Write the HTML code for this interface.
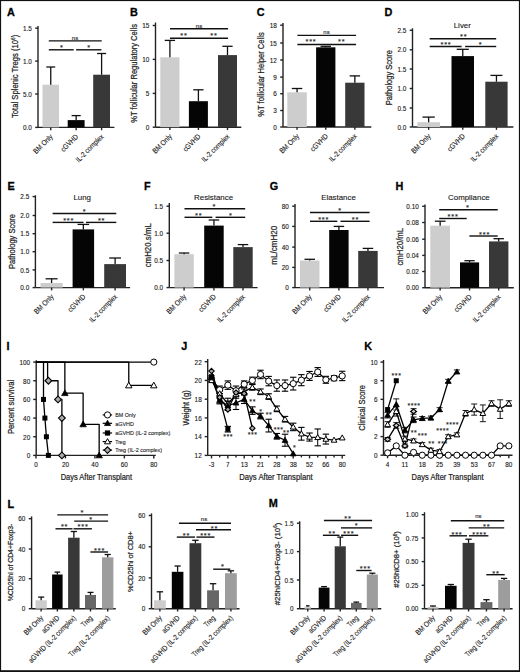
<!DOCTYPE html>
<html><head><meta charset="utf-8"><style>
html,body{margin:0;padding:0;background:#fff;}
svg{display:block;}
text{font-family:"Liberation Sans", sans-serif;stroke:#333;stroke-width:0.12px;}
.h{stroke-width:0.24px;}
.lt{stroke:#000;stroke-width:0.3px;}
</style></head><body>
<svg width="520" height="672" viewBox="0 0 520 672" font-family='"Liberation Sans", sans-serif' fill="#111">
<rect width="520" height="672" fill="#fff"/>
<text x="7" y="16.1" font-size="11.8" font-weight="bold" textLength="7.84" lengthAdjust="spacingAndGlyphs" fill="#000" class="lt">A</text>
<line x1="38" y1="26" x2="38" y2="127.4" stroke="#222" stroke-width="1.4"/>
<line x1="35.2" y1="28.2" x2="38" y2="28.2" stroke="#222" stroke-width="1.4"/>
<text x="31.8" y="30.8" font-size="6.4" text-anchor="end">1.5</text>
<line x1="35.2" y1="61.1" x2="38" y2="61.1" stroke="#222" stroke-width="1.4"/>
<text x="31.8" y="63.7" font-size="6.4" text-anchor="end">1.0</text>
<line x1="35.2" y1="94" x2="38" y2="94" stroke="#222" stroke-width="1.4"/>
<text x="31.8" y="96.6" font-size="6.4" text-anchor="end">5.0</text>
<line x1="35.2" y1="127.4" x2="38" y2="127.4" stroke="#222" stroke-width="1.4"/>
<text x="31.8" y="130" font-size="6.4" text-anchor="end">0.0</text>
<line x1="38" y1="127.4" x2="114.4" y2="127.4" stroke="#222" stroke-width="1.4"/>
<rect x="42.5" y="84.7" width="16.5" height="42.7" fill="#cdcdcd"/>
<line x1="50.75" y1="67" x2="50.75" y2="84.7" stroke="#111" stroke-width="1.3"/>
<line x1="46.3" y1="67" x2="55.2" y2="67" stroke="#111" stroke-width="1.3"/>
<line x1="50.75" y1="127.4" x2="50.75" y2="130.2" stroke="#222" stroke-width="1.4"/>
<rect x="67.7" y="120.1" width="16.9" height="7.3" fill="#050505"/>
<line x1="76.15" y1="115.6" x2="76.15" y2="120.1" stroke="#111" stroke-width="1.3"/>
<line x1="71.59" y1="115.6" x2="80.71" y2="115.6" stroke="#111" stroke-width="1.3"/>
<line x1="76.15" y1="127.4" x2="76.15" y2="130.2" stroke="#222" stroke-width="1.4"/>
<rect x="93.2" y="74.7" width="16.8" height="52.7" fill="#383838"/>
<line x1="101.6" y1="53.5" x2="101.6" y2="74.7" stroke="#111" stroke-width="1.3"/>
<line x1="97.06" y1="53.5" x2="106.14" y2="53.5" stroke="#111" stroke-width="1.3"/>
<line x1="101.6" y1="127.4" x2="101.6" y2="130.2" stroke="#222" stroke-width="1.4"/>
<line x1="48.8" y1="40.9" x2="101.7" y2="40.9" stroke="#111" stroke-width="1.4"/>
<line x1="48.8" y1="49.8" x2="73.7" y2="49.8" stroke="#111" stroke-width="1.4"/>
<line x1="76.1" y1="49.8" x2="101.4" y2="49.8" stroke="#111" stroke-width="1.4"/>
<text x="75" y="39.5" font-size="6" text-anchor="middle">ns</text>
<text x="61.5" y="50.3" font-size="7.4" text-anchor="middle">*</text>
<text x="88.7" y="50.3" font-size="7.4" text-anchor="middle">*</text>
<text x="53.35" y="137.2" font-size="7.56" text-anchor="end" textLength="24.15" lengthAdjust="spacingAndGlyphs" transform="rotate(-45 53.35 137.2)">BM Only</text>
<text x="78.75" y="137.2" font-size="7.56" text-anchor="end" textLength="21.35" lengthAdjust="spacingAndGlyphs" transform="rotate(-45 78.75 137.2)">cGVHD</text>
<text x="104.2" y="137.2" font-size="7.56" text-anchor="end" textLength="36.07" lengthAdjust="spacingAndGlyphs" transform="rotate(-45 104.2 137.2)">IL-2 complex</text>
<text x="18.07" y="76.4" font-size="8.4" text-anchor="middle" textLength="83.3" lengthAdjust="spacingAndGlyphs" transform="rotate(-90 18.07 76.4)" class="h">Total Splenic Tregs (10<tspan font-size="5" dy="-2.8">6</tspan><tspan dy="2.8">)</tspan></text>
<text x="130" y="16.1" font-size="11.8" font-weight="bold" textLength="7.84" lengthAdjust="spacingAndGlyphs" fill="#000" class="lt">B</text>
<line x1="155.5" y1="22.5" x2="155.5" y2="127.2" stroke="#222" stroke-width="1.4"/>
<line x1="152.7" y1="25.5" x2="155.5" y2="25.5" stroke="#222" stroke-width="1.4"/>
<text x="149.3" y="28.1" font-size="6.4" text-anchor="end">15</text>
<line x1="152.7" y1="59.4" x2="155.5" y2="59.4" stroke="#222" stroke-width="1.4"/>
<text x="149.3" y="62" font-size="6.4" text-anchor="end">10</text>
<line x1="152.7" y1="93.4" x2="155.5" y2="93.4" stroke="#222" stroke-width="1.4"/>
<text x="149.3" y="96" font-size="6.4" text-anchor="end">5</text>
<line x1="152.7" y1="127.2" x2="155.5" y2="127.2" stroke="#222" stroke-width="1.4"/>
<text x="149.3" y="129.8" font-size="6.4" text-anchor="end">0</text>
<line x1="155.5" y1="127.2" x2="241.3" y2="127.2" stroke="#222" stroke-width="1.4"/>
<rect x="160.3" y="57.3" width="19.2" height="69.9" fill="#cdcdcd"/>
<line x1="169.9" y1="40.4" x2="169.9" y2="57.3" stroke="#111" stroke-width="1.3"/>
<line x1="164.72" y1="40.4" x2="175.08" y2="40.4" stroke="#111" stroke-width="1.3"/>
<line x1="169.9" y1="127.2" x2="169.9" y2="130" stroke="#222" stroke-width="1.4"/>
<rect x="188.9" y="101.2" width="19" height="26" fill="#050505"/>
<line x1="198.4" y1="89.8" x2="198.4" y2="101.2" stroke="#111" stroke-width="1.3"/>
<line x1="193.27" y1="89.8" x2="203.53" y2="89.8" stroke="#111" stroke-width="1.3"/>
<line x1="198.4" y1="127.2" x2="198.4" y2="130" stroke="#222" stroke-width="1.4"/>
<rect x="218" y="55.1" width="19" height="72.1" fill="#383838"/>
<line x1="227.5" y1="46.3" x2="227.5" y2="55.1" stroke="#111" stroke-width="1.3"/>
<line x1="222.37" y1="46.3" x2="232.63" y2="46.3" stroke="#111" stroke-width="1.3"/>
<line x1="227.5" y1="127.2" x2="227.5" y2="130" stroke="#222" stroke-width="1.4"/>
<line x1="170" y1="28.8" x2="228.1" y2="28.8" stroke="#111" stroke-width="1.4"/>
<line x1="170" y1="38.2" x2="228.1" y2="38.2" stroke="#111" stroke-width="1.4"/>
<text x="199" y="27.6" font-size="6" text-anchor="middle">ns</text>
<text x="181.65" y="38.2" font-size="7.4" text-anchor="middle">*</text>
<text x="185.35" y="38.2" font-size="7.4" text-anchor="middle">*</text>
<text x="211.65" y="38.2" font-size="7.4" text-anchor="middle">*</text>
<text x="215.35" y="38.2" font-size="7.4" text-anchor="middle">*</text>
<text x="172.5" y="137" font-size="7.56" text-anchor="end" textLength="24.15" lengthAdjust="spacingAndGlyphs" transform="rotate(-45 172.5 137)">BM Only</text>
<text x="201" y="137" font-size="7.56" text-anchor="end" textLength="21.35" lengthAdjust="spacingAndGlyphs" transform="rotate(-45 201 137)">cGVHD</text>
<text x="230.1" y="137" font-size="7.56" text-anchor="end" textLength="36.07" lengthAdjust="spacingAndGlyphs" transform="rotate(-45 230.1 137)">IL-2 complex</text>
<text x="136.77" y="73.4" font-size="8.4" text-anchor="middle" textLength="98.7" lengthAdjust="spacingAndGlyphs" transform="rotate(-90 136.77 73.4)" class="h">%T follicular Regulatory Cells</text>
<text x="256.7" y="16.4" font-size="11.8" font-weight="bold" textLength="7.84" lengthAdjust="spacingAndGlyphs" fill="#000" class="lt">C</text>
<line x1="283" y1="23" x2="283" y2="127" stroke="#222" stroke-width="1.4"/>
<line x1="280.2" y1="25.2" x2="283" y2="25.2" stroke="#222" stroke-width="1.4"/>
<text x="276.8" y="27.8" font-size="6.4" text-anchor="end">18</text>
<line x1="280.2" y1="43" x2="283" y2="43" stroke="#222" stroke-width="1.4"/>
<text x="276.8" y="45.6" font-size="6.4" text-anchor="end">15</text>
<line x1="280.2" y1="60" x2="283" y2="60" stroke="#222" stroke-width="1.4"/>
<text x="276.8" y="62.6" font-size="6.4" text-anchor="end">12</text>
<line x1="280.2" y1="77.1" x2="283" y2="77.1" stroke="#222" stroke-width="1.4"/>
<text x="276.8" y="79.7" font-size="6.4" text-anchor="end">9</text>
<line x1="280.2" y1="93.7" x2="283" y2="93.7" stroke="#222" stroke-width="1.4"/>
<text x="276.8" y="96.3" font-size="6.4" text-anchor="end">6</text>
<line x1="280.2" y1="110.5" x2="283" y2="110.5" stroke="#222" stroke-width="1.4"/>
<text x="276.8" y="113.1" font-size="6.4" text-anchor="end">3</text>
<line x1="280.2" y1="127" x2="283" y2="127" stroke="#222" stroke-width="1.4"/>
<text x="276.8" y="129.6" font-size="6.4" text-anchor="end">0</text>
<line x1="283" y1="127" x2="371.3" y2="127" stroke="#222" stroke-width="1.4"/>
<rect x="287.3" y="92.3" width="19.5" height="34.7" fill="#cdcdcd"/>
<line x1="297.05" y1="88.5" x2="297.05" y2="92.3" stroke="#111" stroke-width="1.3"/>
<line x1="291.79" y1="88.5" x2="302.31" y2="88.5" stroke="#111" stroke-width="1.3"/>
<line x1="297.05" y1="127" x2="297.05" y2="129.8" stroke="#222" stroke-width="1.4"/>
<rect x="316.1" y="47.3" width="19.3" height="79.7" fill="#050505"/>
<line x1="325.75" y1="46.3" x2="325.75" y2="47.3" stroke="#111" stroke-width="1.3"/>
<line x1="320.54" y1="46.3" x2="330.96" y2="46.3" stroke="#111" stroke-width="1.3"/>
<line x1="325.75" y1="127" x2="325.75" y2="129.8" stroke="#222" stroke-width="1.4"/>
<rect x="345.2" y="82.7" width="19.3" height="44.3" fill="#383838"/>
<line x1="354.85" y1="75.9" x2="354.85" y2="82.7" stroke="#111" stroke-width="1.3"/>
<line x1="349.64" y1="75.9" x2="360.06" y2="75.9" stroke="#111" stroke-width="1.3"/>
<line x1="354.85" y1="127" x2="354.85" y2="129.8" stroke="#222" stroke-width="1.4"/>
<line x1="297.4" y1="35.4" x2="356.1" y2="35.4" stroke="#111" stroke-width="1.4"/>
<line x1="297.4" y1="44.5" x2="356.1" y2="44.5" stroke="#111" stroke-width="1.4"/>
<text x="326.5" y="34.2" font-size="6" text-anchor="middle">ns</text>
<text x="306.9" y="44.4" font-size="7.4" text-anchor="middle">*</text>
<text x="310.6" y="44.4" font-size="7.4" text-anchor="middle">*</text>
<text x="314.3" y="44.4" font-size="7.4" text-anchor="middle">*</text>
<text x="339.55" y="44.4" font-size="7.4" text-anchor="middle">*</text>
<text x="343.25" y="44.4" font-size="7.4" text-anchor="middle">*</text>
<text x="299.65" y="136.8" font-size="7.56" text-anchor="end" textLength="24.15" lengthAdjust="spacingAndGlyphs" transform="rotate(-45 299.65 136.8)">BM Only</text>
<text x="328.35" y="136.8" font-size="7.56" text-anchor="end" textLength="21.35" lengthAdjust="spacingAndGlyphs" transform="rotate(-45 328.35 136.8)">cGVHD</text>
<text x="357.45" y="136.8" font-size="7.56" text-anchor="end" textLength="36.07" lengthAdjust="spacingAndGlyphs" transform="rotate(-45 357.45 136.8)">IL-2 complex</text>
<text x="263.77" y="74.5" font-size="8.4" text-anchor="middle" textLength="84.4" lengthAdjust="spacingAndGlyphs" transform="rotate(-90 263.77 74.5)" class="h">%T follicular Helper Cells</text>
<text x="384.6" y="16.2" font-size="11.8" font-weight="bold" textLength="7.84" lengthAdjust="spacingAndGlyphs" fill="#000" class="lt">D</text>
<text x="462.3" y="28.3" font-size="7.9" text-anchor="middle">Liver</text>
<line x1="412.5" y1="28.3" x2="412.5" y2="127" stroke="#222" stroke-width="1.4"/>
<line x1="409.7" y1="30.3" x2="412.5" y2="30.3" stroke="#222" stroke-width="1.4"/>
<text x="406.3" y="32.9" font-size="6.4" text-anchor="end">2.5</text>
<line x1="409.7" y1="49.8" x2="412.5" y2="49.8" stroke="#222" stroke-width="1.4"/>
<text x="406.3" y="52.4" font-size="6.4" text-anchor="end">2.0</text>
<line x1="409.7" y1="69" x2="412.5" y2="69" stroke="#222" stroke-width="1.4"/>
<text x="406.3" y="71.6" font-size="6.4" text-anchor="end">1.5</text>
<line x1="409.7" y1="88.5" x2="412.5" y2="88.5" stroke="#222" stroke-width="1.4"/>
<text x="406.3" y="91.1" font-size="6.4" text-anchor="end">1.0</text>
<line x1="409.7" y1="108" x2="412.5" y2="108" stroke="#222" stroke-width="1.4"/>
<text x="406.3" y="110.6" font-size="6.4" text-anchor="end">0.5</text>
<line x1="409.7" y1="127" x2="412.5" y2="127" stroke="#222" stroke-width="1.4"/>
<text x="406.3" y="129.6" font-size="6.4" text-anchor="end">0.0</text>
<line x1="412.5" y1="127" x2="513.4" y2="127" stroke="#222" stroke-width="1.4"/>
<rect x="417.3" y="122.2" width="22.7" height="4.8" fill="#cdcdcd"/>
<line x1="428.65" y1="117.1" x2="428.65" y2="122.2" stroke="#111" stroke-width="1.3"/>
<line x1="422.52" y1="117.1" x2="434.78" y2="117.1" stroke="#111" stroke-width="1.3"/>
<line x1="428.65" y1="127" x2="428.65" y2="129.8" stroke="#222" stroke-width="1.4"/>
<rect x="451.5" y="56.1" width="22.5" height="70.9" fill="#050505"/>
<line x1="462.75" y1="49.3" x2="462.75" y2="56.1" stroke="#111" stroke-width="1.3"/>
<line x1="456.68" y1="49.3" x2="468.82" y2="49.3" stroke="#111" stroke-width="1.3"/>
<line x1="462.75" y1="127" x2="462.75" y2="129.8" stroke="#222" stroke-width="1.4"/>
<rect x="485.3" y="81.7" width="22.3" height="45.3" fill="#383838"/>
<line x1="496.45" y1="75.4" x2="496.45" y2="81.7" stroke="#111" stroke-width="1.3"/>
<line x1="490.43" y1="75.4" x2="502.47" y2="75.4" stroke="#111" stroke-width="1.3"/>
<line x1="496.45" y1="127" x2="496.45" y2="129.8" stroke="#222" stroke-width="1.4"/>
<line x1="429.7" y1="38.7" x2="496.2" y2="38.7" stroke="#111" stroke-width="1.4"/>
<line x1="429.7" y1="46.5" x2="461.6" y2="46.5" stroke="#111" stroke-width="1.4"/>
<line x1="465.1" y1="46.5" x2="496.2" y2="46.5" stroke="#111" stroke-width="1.4"/>
<text x="461.45" y="39.3" font-size="7.4" text-anchor="middle">*</text>
<text x="465.15" y="39.3" font-size="7.4" text-anchor="middle">*</text>
<text x="441.9" y="46.9" font-size="7.4" text-anchor="middle">*</text>
<text x="445.6" y="46.9" font-size="7.4" text-anchor="middle">*</text>
<text x="449.3" y="46.9" font-size="7.4" text-anchor="middle">*</text>
<text x="480.3" y="46.9" font-size="7.4" text-anchor="middle">*</text>
<text x="431.25" y="136.8" font-size="7.56" text-anchor="end" textLength="24.15" lengthAdjust="spacingAndGlyphs" transform="rotate(-45 431.25 136.8)">BM Only</text>
<text x="465.35" y="136.8" font-size="7.56" text-anchor="end" textLength="21.35" lengthAdjust="spacingAndGlyphs" transform="rotate(-45 465.35 136.8)">cGVHD</text>
<text x="499.05" y="136.8" font-size="7.56" text-anchor="end" textLength="36.07" lengthAdjust="spacingAndGlyphs" transform="rotate(-45 499.05 136.8)">IL-2 complex</text>
<text x="391.52" y="77.6" font-size="8.4" text-anchor="middle" textLength="55.2" lengthAdjust="spacingAndGlyphs" transform="rotate(-90 391.52 77.6)" class="h">Pathology Score</text>
<text x="7.6" y="190.1" font-size="11.8" font-weight="bold" textLength="7.24" lengthAdjust="spacingAndGlyphs" fill="#000" class="lt">E</text>
<text x="82.2" y="199.9" font-size="7.9" text-anchor="middle">Lung</text>
<line x1="35.4" y1="195.3" x2="35.4" y2="287.6" stroke="#222" stroke-width="1.4"/>
<line x1="32.6" y1="196.6" x2="35.4" y2="196.6" stroke="#222" stroke-width="1.4"/>
<text x="29.2" y="199.2" font-size="6.4" text-anchor="end">2.5</text>
<line x1="32.6" y1="215.5" x2="35.4" y2="215.5" stroke="#222" stroke-width="1.4"/>
<text x="29.2" y="218.1" font-size="6.4" text-anchor="end">2.0</text>
<line x1="32.6" y1="233.7" x2="35.4" y2="233.7" stroke="#222" stroke-width="1.4"/>
<text x="29.2" y="236.3" font-size="6.4" text-anchor="end">1.5</text>
<line x1="32.6" y1="251.7" x2="35.4" y2="251.7" stroke="#222" stroke-width="1.4"/>
<text x="29.2" y="254.3" font-size="6.4" text-anchor="end">1.0</text>
<line x1="32.6" y1="269.9" x2="35.4" y2="269.9" stroke="#222" stroke-width="1.4"/>
<text x="29.2" y="272.5" font-size="6.4" text-anchor="end">0.5</text>
<line x1="32.6" y1="287.6" x2="35.4" y2="287.6" stroke="#222" stroke-width="1.4"/>
<text x="29.2" y="290.2" font-size="6.4" text-anchor="end">0.0</text>
<line x1="35.4" y1="287.6" x2="130.1" y2="287.6" stroke="#222" stroke-width="1.4"/>
<rect x="40.5" y="283" width="22.2" height="4.6" fill="#cdcdcd"/>
<line x1="51.6" y1="278.8" x2="51.6" y2="283" stroke="#111" stroke-width="1.3"/>
<line x1="45.61" y1="278.8" x2="57.59" y2="278.8" stroke="#111" stroke-width="1.3"/>
<line x1="51.6" y1="287.6" x2="51.6" y2="290.4" stroke="#222" stroke-width="1.4"/>
<rect x="72.6" y="229.4" width="21.5" height="58.2" fill="#050505"/>
<line x1="83.35" y1="224.4" x2="83.35" y2="229.4" stroke="#111" stroke-width="1.3"/>
<line x1="77.54" y1="224.4" x2="89.16" y2="224.4" stroke="#111" stroke-width="1.3"/>
<line x1="83.35" y1="287.6" x2="83.35" y2="290.4" stroke="#222" stroke-width="1.4"/>
<rect x="104.2" y="264.1" width="21.8" height="23.5" fill="#383838"/>
<line x1="115.1" y1="258" x2="115.1" y2="264.1" stroke="#111" stroke-width="1.3"/>
<line x1="109.21" y1="258" x2="120.99" y2="258" stroke="#111" stroke-width="1.3"/>
<line x1="115.1" y1="287.6" x2="115.1" y2="290.4" stroke="#222" stroke-width="1.4"/>
<line x1="52.6" y1="213.5" x2="116.3" y2="213.5" stroke="#111" stroke-width="1.4"/>
<line x1="52.6" y1="222.4" x2="83.5" y2="222.4" stroke="#111" stroke-width="1.4"/>
<line x1="86" y1="222.4" x2="116.3" y2="222.4" stroke="#111" stroke-width="1.4"/>
<text x="84.2" y="213.9" font-size="7.4" text-anchor="middle">*</text>
<text x="64.6" y="222.5" font-size="7.4" text-anchor="middle">*</text>
<text x="68.3" y="222.5" font-size="7.4" text-anchor="middle">*</text>
<text x="72" y="222.5" font-size="7.4" text-anchor="middle">*</text>
<text x="99.35" y="222.5" font-size="7.4" text-anchor="middle">*</text>
<text x="103.05" y="222.5" font-size="7.4" text-anchor="middle">*</text>
<text x="54.2" y="297.4" font-size="7.56" text-anchor="end" textLength="24.15" lengthAdjust="spacingAndGlyphs" transform="rotate(-45 54.2 297.4)">BM Only</text>
<text x="85.95" y="297.4" font-size="7.56" text-anchor="end" textLength="21.35" lengthAdjust="spacingAndGlyphs" transform="rotate(-45 85.95 297.4)">cGVHD</text>
<text x="117.7" y="297.4" font-size="7.56" text-anchor="end" textLength="36.07" lengthAdjust="spacingAndGlyphs" transform="rotate(-45 117.7 297.4)">IL-2 complex</text>
<text x="15.17" y="241.5" font-size="8.4" text-anchor="middle" textLength="55.1" lengthAdjust="spacingAndGlyphs" transform="rotate(-90 15.17 241.5)" class="h">Pathology Score</text>
<text x="144" y="190.1" font-size="11.8" font-weight="bold" textLength="6.63" lengthAdjust="spacingAndGlyphs" fill="#000" class="lt">F</text>
<text x="213.6" y="199.9" font-size="7.9" text-anchor="middle">Resistance</text>
<line x1="169.3" y1="203" x2="169.3" y2="287.6" stroke="#222" stroke-width="1.4"/>
<line x1="166.5" y1="206.2" x2="169.3" y2="206.2" stroke="#222" stroke-width="1.4"/>
<text x="163.1" y="208.8" font-size="6.4" text-anchor="end">1.5</text>
<line x1="166.5" y1="233.2" x2="169.3" y2="233.2" stroke="#222" stroke-width="1.4"/>
<text x="163.1" y="235.8" font-size="6.4" text-anchor="end">1.0</text>
<line x1="166.5" y1="260.5" x2="169.3" y2="260.5" stroke="#222" stroke-width="1.4"/>
<text x="163.1" y="263.1" font-size="6.4" text-anchor="end">0.5</text>
<line x1="166.5" y1="287.6" x2="169.3" y2="287.6" stroke="#222" stroke-width="1.4"/>
<text x="163.1" y="290.2" font-size="6.4" text-anchor="end">0.0</text>
<line x1="169.3" y1="287.6" x2="257.6" y2="287.6" stroke="#222" stroke-width="1.4"/>
<rect x="174.4" y="254.2" width="19.4" height="33.4" fill="#cdcdcd"/>
<line x1="184.1" y1="253" x2="184.1" y2="254.2" stroke="#111" stroke-width="1.3"/>
<line x1="178.86" y1="253" x2="189.34" y2="253" stroke="#111" stroke-width="1.3"/>
<line x1="184.1" y1="287.6" x2="184.1" y2="290.4" stroke="#222" stroke-width="1.4"/>
<rect x="204.2" y="225.6" width="19.5" height="62" fill="#050505"/>
<line x1="213.95" y1="220" x2="213.95" y2="225.6" stroke="#111" stroke-width="1.3"/>
<line x1="208.69" y1="220" x2="219.21" y2="220" stroke="#111" stroke-width="1.3"/>
<line x1="213.95" y1="287.6" x2="213.95" y2="290.4" stroke="#222" stroke-width="1.4"/>
<rect x="233.3" y="247.1" width="19.4" height="40.5" fill="#383838"/>
<line x1="243" y1="244.6" x2="243" y2="247.1" stroke="#111" stroke-width="1.3"/>
<line x1="237.76" y1="244.6" x2="248.24" y2="244.6" stroke="#111" stroke-width="1.3"/>
<line x1="243" y1="287.6" x2="243" y2="290.4" stroke="#222" stroke-width="1.4"/>
<line x1="184.5" y1="208.7" x2="245.2" y2="208.7" stroke="#111" stroke-width="1.4"/>
<line x1="184.5" y1="217.3" x2="212.3" y2="217.3" stroke="#111" stroke-width="1.4"/>
<line x1="215.6" y1="217.3" x2="245.2" y2="217.3" stroke="#111" stroke-width="1.4"/>
<text x="214" y="208.8" font-size="7.4" text-anchor="middle">*</text>
<text x="196.55" y="217.7" font-size="7.4" text-anchor="middle">*</text>
<text x="200.25" y="217.7" font-size="7.4" text-anchor="middle">*</text>
<text x="230.5" y="217.7" font-size="7.4" text-anchor="middle">*</text>
<text x="186.7" y="297.4" font-size="7.56" text-anchor="end" textLength="24.15" lengthAdjust="spacingAndGlyphs" transform="rotate(-45 186.7 297.4)">BM Only</text>
<text x="216.55" y="297.4" font-size="7.56" text-anchor="end" textLength="21.35" lengthAdjust="spacingAndGlyphs" transform="rotate(-45 216.55 297.4)">cGVHD</text>
<text x="245.6" y="297.4" font-size="7.56" text-anchor="end" textLength="36.07" lengthAdjust="spacingAndGlyphs" transform="rotate(-45 245.6 297.4)">IL-2 complex</text>
<text x="150.57" y="245.2" font-size="8.4" text-anchor="middle" textLength="44.3" lengthAdjust="spacingAndGlyphs" transform="rotate(-90 150.57 245.2)" class="h">cmH20.s/mL</text>
<text x="269.7" y="190.1" font-size="11.8" font-weight="bold" textLength="8.44" lengthAdjust="spacingAndGlyphs" fill="#000" class="lt">G</text>
<text x="338.5" y="199.9" font-size="7.9" text-anchor="middle">Elastance</text>
<line x1="295" y1="204" x2="295" y2="287.6" stroke="#222" stroke-width="1.4"/>
<line x1="292.2" y1="206.2" x2="295" y2="206.2" stroke="#222" stroke-width="1.4"/>
<text x="288.8" y="208.8" font-size="6.4" text-anchor="end">80</text>
<line x1="292.2" y1="226.4" x2="295" y2="226.4" stroke="#222" stroke-width="1.4"/>
<text x="288.8" y="229" font-size="6.4" text-anchor="end">60</text>
<line x1="292.2" y1="247.1" x2="295" y2="247.1" stroke="#222" stroke-width="1.4"/>
<text x="288.8" y="249.7" font-size="6.4" text-anchor="end">40</text>
<line x1="292.2" y1="267.4" x2="295" y2="267.4" stroke="#222" stroke-width="1.4"/>
<text x="288.8" y="270" font-size="6.4" text-anchor="end">20</text>
<line x1="292.2" y1="287.6" x2="295" y2="287.6" stroke="#222" stroke-width="1.4"/>
<text x="288.8" y="290.2" font-size="6.4" text-anchor="end">0</text>
<line x1="295" y1="287.6" x2="384" y2="287.6" stroke="#222" stroke-width="1.4"/>
<rect x="300" y="260.5" width="19.5" height="27.1" fill="#cdcdcd"/>
<line x1="309.75" y1="259.3" x2="309.75" y2="260.5" stroke="#111" stroke-width="1.3"/>
<line x1="304.49" y1="259.3" x2="315.01" y2="259.3" stroke="#111" stroke-width="1.3"/>
<line x1="309.75" y1="287.6" x2="309.75" y2="290.4" stroke="#222" stroke-width="1.4"/>
<rect x="329.2" y="230" width="19.4" height="57.6" fill="#050505"/>
<line x1="338.9" y1="226.4" x2="338.9" y2="230" stroke="#111" stroke-width="1.3"/>
<line x1="333.66" y1="226.4" x2="344.14" y2="226.4" stroke="#111" stroke-width="1.3"/>
<line x1="338.9" y1="287.6" x2="338.9" y2="290.4" stroke="#222" stroke-width="1.4"/>
<rect x="358.2" y="250.9" width="19.5" height="36.7" fill="#383838"/>
<line x1="367.95" y1="248.4" x2="367.95" y2="250.9" stroke="#111" stroke-width="1.3"/>
<line x1="362.69" y1="248.4" x2="373.21" y2="248.4" stroke="#111" stroke-width="1.3"/>
<line x1="367.95" y1="287.6" x2="367.95" y2="290.4" stroke="#222" stroke-width="1.4"/>
<line x1="310" y1="212.5" x2="369.6" y2="212.5" stroke="#111" stroke-width="1.4"/>
<line x1="310" y1="221.3" x2="337.3" y2="221.3" stroke="#111" stroke-width="1.4"/>
<line x1="340.5" y1="221.3" x2="369.6" y2="221.3" stroke="#111" stroke-width="1.4"/>
<text x="339.8" y="212.9" font-size="7.4" text-anchor="middle">*</text>
<text x="319.6" y="221.7" font-size="7.4" text-anchor="middle">*</text>
<text x="323.3" y="221.7" font-size="7.4" text-anchor="middle">*</text>
<text x="327" y="221.7" font-size="7.4" text-anchor="middle">*</text>
<text x="353.15" y="221.7" font-size="7.4" text-anchor="middle">*</text>
<text x="356.85" y="221.7" font-size="7.4" text-anchor="middle">*</text>
<text x="312.35" y="297.4" font-size="7.56" text-anchor="end" textLength="24.15" lengthAdjust="spacingAndGlyphs" transform="rotate(-45 312.35 297.4)">BM Only</text>
<text x="341.5" y="297.4" font-size="7.56" text-anchor="end" textLength="21.35" lengthAdjust="spacingAndGlyphs" transform="rotate(-45 341.5 297.4)">cGVHD</text>
<text x="370.55" y="297.4" font-size="7.56" text-anchor="end" textLength="36.07" lengthAdjust="spacingAndGlyphs" transform="rotate(-45 370.55 297.4)">IL-2 complex</text>
<text x="276.67" y="245.2" font-size="8.4" text-anchor="middle" textLength="38.9" lengthAdjust="spacingAndGlyphs" transform="rotate(-90 276.67 245.2)" class="h">mL/cmH20</text>
<text x="395.6" y="190.1" font-size="11.8" font-weight="bold" textLength="7.84" lengthAdjust="spacingAndGlyphs" fill="#000" class="lt">H</text>
<text x="468.9" y="199.9" font-size="7.9" text-anchor="middle">Compliance</text>
<line x1="425" y1="204.5" x2="425" y2="287.7" stroke="#222" stroke-width="1.4"/>
<line x1="422.2" y1="206.3" x2="425" y2="206.3" stroke="#222" stroke-width="1.4"/>
<text x="418.8" y="208.9" font-size="6.4" text-anchor="end">0.10</text>
<line x1="422.2" y1="222.5" x2="425" y2="222.5" stroke="#222" stroke-width="1.4"/>
<text x="418.8" y="225.1" font-size="6.4" text-anchor="end">0.08</text>
<line x1="422.2" y1="239.2" x2="425" y2="239.2" stroke="#222" stroke-width="1.4"/>
<text x="418.8" y="241.8" font-size="6.4" text-anchor="end">0.06</text>
<line x1="422.2" y1="255.4" x2="425" y2="255.4" stroke="#222" stroke-width="1.4"/>
<text x="418.8" y="258" font-size="6.4" text-anchor="end">0.04</text>
<line x1="422.2" y1="271.5" x2="425" y2="271.5" stroke="#222" stroke-width="1.4"/>
<text x="418.8" y="274.1" font-size="6.4" text-anchor="end">0.02</text>
<line x1="422.2" y1="287.7" x2="425" y2="287.7" stroke="#222" stroke-width="1.4"/>
<text x="418.8" y="290.3" font-size="6.4" text-anchor="end">0.00</text>
<line x1="425" y1="287.7" x2="513.8" y2="287.7" stroke="#222" stroke-width="1.4"/>
<rect x="430.3" y="225.7" width="19.7" height="62" fill="#cdcdcd"/>
<line x1="440.15" y1="221.2" x2="440.15" y2="225.7" stroke="#111" stroke-width="1.3"/>
<line x1="434.83" y1="221.2" x2="445.47" y2="221.2" stroke="#111" stroke-width="1.3"/>
<line x1="440.15" y1="287.7" x2="440.15" y2="290.5" stroke="#222" stroke-width="1.4"/>
<rect x="460" y="262.4" width="19.1" height="25.3" fill="#050505"/>
<line x1="469.55" y1="260.7" x2="469.55" y2="262.4" stroke="#111" stroke-width="1.3"/>
<line x1="464.39" y1="260.7" x2="474.71" y2="260.7" stroke="#111" stroke-width="1.3"/>
<line x1="469.55" y1="287.7" x2="469.55" y2="290.5" stroke="#222" stroke-width="1.4"/>
<rect x="489" y="241.4" width="19.4" height="46.3" fill="#383838"/>
<line x1="498.7" y1="238.7" x2="498.7" y2="241.4" stroke="#111" stroke-width="1.3"/>
<line x1="493.46" y1="238.7" x2="503.94" y2="238.7" stroke="#111" stroke-width="1.3"/>
<line x1="498.7" y1="287.7" x2="498.7" y2="290.5" stroke="#222" stroke-width="1.4"/>
<line x1="439.2" y1="209.8" x2="497.7" y2="209.8" stroke="#111" stroke-width="1.4"/>
<line x1="439.2" y1="218.5" x2="466.7" y2="218.5" stroke="#111" stroke-width="1.4"/>
<line x1="469.4" y1="236" x2="497.7" y2="236" stroke="#111" stroke-width="1.4"/>
<text x="467.5" y="210.4" font-size="7.4" text-anchor="middle">*</text>
<text x="449" y="219.1" font-size="7.4" text-anchor="middle">*</text>
<text x="452.7" y="219.1" font-size="7.4" text-anchor="middle">*</text>
<text x="456.4" y="219.1" font-size="7.4" text-anchor="middle">*</text>
<text x="480.5" y="236.6" font-size="7.4" text-anchor="middle">*</text>
<text x="484.2" y="236.6" font-size="7.4" text-anchor="middle">*</text>
<text x="487.9" y="236.6" font-size="7.4" text-anchor="middle">*</text>
<text x="442.75" y="297.5" font-size="7.56" text-anchor="end" textLength="24.15" lengthAdjust="spacingAndGlyphs" transform="rotate(-45 442.75 297.5)">BM Only</text>
<text x="472.15" y="297.5" font-size="7.56" text-anchor="end" textLength="21.35" lengthAdjust="spacingAndGlyphs" transform="rotate(-45 472.15 297.5)">cGVHD</text>
<text x="501.3" y="297.5" font-size="7.56" text-anchor="end" textLength="36.07" lengthAdjust="spacingAndGlyphs" transform="rotate(-45 501.3 297.5)">IL-2 complex</text>
<text x="402.97" y="246.7" font-size="8.4" text-anchor="middle" textLength="37.7" lengthAdjust="spacingAndGlyphs" transform="rotate(-90 402.97 246.7)" class="h">cmH20/mL</text>
<text x="6.6" y="349.5" font-size="11.8" font-weight="bold" textLength="3.02" lengthAdjust="spacingAndGlyphs" fill="#000" class="lt">I</text>
<line x1="36.2" y1="360.2" x2="36.2" y2="455.4" stroke="#222" stroke-width="1.4"/>
<line x1="33.2" y1="362.1" x2="36.2" y2="362.1" stroke="#222" stroke-width="1.4"/>
<text x="30.2" y="364.9" font-size="6.4" text-anchor="end">100</text>
<line x1="33.2" y1="380.76" x2="36.2" y2="380.76" stroke="#222" stroke-width="1.4"/>
<text x="30.2" y="383.56" font-size="6.4" text-anchor="end">80</text>
<line x1="33.2" y1="399.42" x2="36.2" y2="399.42" stroke="#222" stroke-width="1.4"/>
<text x="30.2" y="402.22" font-size="6.4" text-anchor="end">60</text>
<line x1="33.2" y1="418.08" x2="36.2" y2="418.08" stroke="#222" stroke-width="1.4"/>
<text x="30.2" y="420.88" font-size="6.4" text-anchor="end">40</text>
<line x1="33.2" y1="436.74" x2="36.2" y2="436.74" stroke="#222" stroke-width="1.4"/>
<text x="30.2" y="439.54" font-size="6.4" text-anchor="end">20</text>
<line x1="33.2" y1="455.4" x2="36.2" y2="455.4" stroke="#222" stroke-width="1.4"/>
<text x="30.2" y="458.2" font-size="6.4" text-anchor="end">0</text>
<line x1="36.2" y1="455.4" x2="155.8" y2="455.4" stroke="#222" stroke-width="1.4"/>
<line x1="36" y1="455.4" x2="36" y2="458.4" stroke="#222" stroke-width="1.4"/>
<text x="36" y="467.4" font-size="6.4" text-anchor="middle">0</text>
<line x1="65.45" y1="455.4" x2="65.45" y2="458.4" stroke="#222" stroke-width="1.4"/>
<text x="65.45" y="467.4" font-size="6.4" text-anchor="middle">20</text>
<line x1="94.9" y1="455.4" x2="94.9" y2="458.4" stroke="#222" stroke-width="1.4"/>
<text x="94.9" y="467.4" font-size="6.4" text-anchor="middle">40</text>
<line x1="124.35" y1="455.4" x2="124.35" y2="458.4" stroke="#222" stroke-width="1.4"/>
<text x="124.35" y="467.4" font-size="6.4" text-anchor="middle">60</text>
<line x1="153.8" y1="455.4" x2="153.8" y2="458.4" stroke="#222" stroke-width="1.4"/>
<text x="153.8" y="467.4" font-size="6.4" text-anchor="middle">80</text>
<text x="96.4" y="479.5" font-size="9.3" text-anchor="middle" textLength="71.4" lengthAdjust="spacingAndGlyphs" class="h">Days After Transplant</text>
<text x="13.87" y="406.9" font-size="8.4" text-anchor="middle" textLength="54.2" lengthAdjust="spacingAndGlyphs" transform="rotate(-90 13.87 406.9)" class="h">Percent survival</text>
<polyline fill="none" stroke="#000" stroke-width="1.3" stroke-linejoin="round" points="36,362.1 153.8,362.1"/>
<polyline fill="none" stroke="#000" stroke-width="1.3" stroke-linejoin="round" points="36,362.1 128.77,362.1 128.77,385.42 153.8,385.42"/>
<polyline fill="none" stroke="#000" stroke-width="1.3" stroke-linejoin="round" points="36,362.1 64.86,362.1 64.86,393.17 83.12,393.17 83.12,424.33 99.17,424.33 99.17,455.4"/>
<polyline fill="none" stroke="#000" stroke-width="1.3" stroke-linejoin="round" points="36,362.1 43.5,362.1 43.5,399.42 44.9,418.08 46.4,436.74 48.4,455.4"/>
<polyline fill="none" stroke="#000" stroke-width="1.3" stroke-linejoin="round" points="36,362.1 47.6,362.1 47.6,380.76 58,380.76 58,399.42 61.9,399.42 61.9,455.4"/>
<circle cx="153.8" cy="362.1" r="3.1" fill="#fff" stroke="#000" stroke-width="1"/>
<polygon points="128.77,382.2 125.55,387.84 131.99,387.84" fill="#fff" stroke="#000" stroke-width="1"/>
<polygon points="153.8,382.2 150.58,387.84 157.02,387.84" fill="#fff" stroke="#000" stroke-width="1"/>
<polygon points="64.86,389.95 61.64,395.58 68.08,395.58" fill="#000" stroke="#000" stroke-width="0.8"/>
<polygon points="83.12,421.11 79.9,426.75 86.34,426.75" fill="#000" stroke="#000" stroke-width="0.8"/>
<polygon points="99.17,452.18 95.95,457.81 102.39,457.81" fill="#000" stroke="#000" stroke-width="0.8"/>
<rect x="41" y="396.92" width="5" height="5" fill="#000"/>
<rect x="42.4" y="415.58" width="5" height="5" fill="#000"/>
<rect x="43.9" y="434.24" width="5" height="5" fill="#000"/>
<rect x="45.9" y="452.9" width="5" height="5" fill="#000"/>
<polygon points="48.4,377.38 51.77,380.76 48.4,384.13 45.02,380.76" fill="#aaa" stroke="#000" stroke-width="1.1"/>
<polygon points="58,396.04 61.38,399.42 58,402.79 54.62,399.42" fill="#aaa" stroke="#000" stroke-width="1.1"/>
<polygon points="61.9,414.7 65.28,418.08 61.9,421.45 58.52,418.08" fill="#aaa" stroke="#000" stroke-width="1.1"/>
<polygon points="61.9,452.02 65.28,455.4 61.9,458.77 58.52,455.4" fill="#aaa" stroke="#000" stroke-width="1.1"/>
<line x1="102.7" y1="414.9" x2="112.1" y2="414.9" stroke="#000" stroke-width="1.2"/>
<circle cx="107.5" cy="414.9" r="3.1" fill="#fff" stroke="#000" stroke-width="1"/>
<text x="115.2" y="417.1" font-size="6.2" textLength="20.4" lengthAdjust="spacingAndGlyphs">BM Only</text>
<line x1="102.7" y1="423.3" x2="112.1" y2="423.3" stroke="#000" stroke-width="1.2"/>
<polygon points="107.5,420.31 104.51,425.54 110.49,425.54" fill="#000" stroke="#000" stroke-width="0.8"/>
<text x="115.2" y="425.5" font-size="6.2" textLength="18.8" lengthAdjust="spacingAndGlyphs">aGVHD</text>
<line x1="102.7" y1="433" x2="112.1" y2="433" stroke="#000" stroke-width="1.2"/>
<rect x="104.9" y="430.4" width="5.2" height="5.2" fill="#000"/>
<text x="115.2" y="435.2" font-size="6.2" textLength="55.2" lengthAdjust="spacingAndGlyphs">aGVHD (IL-2 complex)</text>
<line x1="102.7" y1="441.6" x2="112.1" y2="441.6" stroke="#000" stroke-width="1.2"/>
<polygon points="107.5,438.61 104.51,443.84 110.49,443.84" fill="#fff" stroke="#000" stroke-width="1"/>
<text x="115.2" y="443.8" font-size="6.2" textLength="10.4" lengthAdjust="spacingAndGlyphs">Treg</text>
<line x1="102.7" y1="450.1" x2="112.1" y2="450.1" stroke="#000" stroke-width="1.2"/>
<polygon points="107.5,446.85 110.75,450.1 107.5,453.35 104.25,450.1" fill="#aaa" stroke="#000" stroke-width="1.1"/>
<text x="115.2" y="452.3" font-size="6.2" textLength="46.9" lengthAdjust="spacingAndGlyphs">Treg (IL-2 complex)</text>
<text x="181.3" y="349.9" font-size="11.8" font-weight="bold" textLength="6.04" lengthAdjust="spacingAndGlyphs" fill="#000" class="lt">J</text>
<line x1="207.7" y1="359" x2="207.7" y2="455.4" stroke="#222" stroke-width="1.4"/>
<line x1="204.7" y1="361.7" x2="207.7" y2="361.7" stroke="#222" stroke-width="1.4"/>
<text x="201.7" y="364.5" font-size="6.4" text-anchor="end">22</text>
<line x1="204.7" y1="380.44" x2="207.7" y2="380.44" stroke="#222" stroke-width="1.4"/>
<text x="201.7" y="383.24" font-size="6.4" text-anchor="end">20</text>
<line x1="204.7" y1="399.18" x2="207.7" y2="399.18" stroke="#222" stroke-width="1.4"/>
<text x="201.7" y="401.98" font-size="6.4" text-anchor="end">18</text>
<line x1="204.7" y1="417.92" x2="207.7" y2="417.92" stroke="#222" stroke-width="1.4"/>
<text x="201.7" y="420.72" font-size="6.4" text-anchor="end">16</text>
<line x1="204.7" y1="436.66" x2="207.7" y2="436.66" stroke="#222" stroke-width="1.4"/>
<text x="201.7" y="439.46" font-size="6.4" text-anchor="end">14</text>
<line x1="204.7" y1="455.4" x2="207.7" y2="455.4" stroke="#222" stroke-width="1.4"/>
<text x="201.7" y="458.2" font-size="6.4" text-anchor="end">12</text>
<line x1="207.7" y1="455.4" x2="345.2" y2="455.4" stroke="#222" stroke-width="1.4"/>
<line x1="211.5" y1="455.4" x2="211.5" y2="458.4" stroke="#222" stroke-width="1.4"/>
<text x="211.5" y="467.4" font-size="6.4" text-anchor="middle">-3</text>
<line x1="219.67" y1="455.4" x2="219.67" y2="457.4" stroke="#222" stroke-width="1.4"/>
<line x1="227.84" y1="455.4" x2="227.84" y2="458.4" stroke="#222" stroke-width="1.4"/>
<text x="227.84" y="467.4" font-size="6.4" text-anchor="middle">7</text>
<line x1="236.01" y1="455.4" x2="236.01" y2="457.4" stroke="#222" stroke-width="1.4"/>
<line x1="244.18" y1="455.4" x2="244.18" y2="458.4" stroke="#222" stroke-width="1.4"/>
<text x="244.18" y="467.4" font-size="6.4" text-anchor="middle">13</text>
<line x1="252.35" y1="455.4" x2="252.35" y2="457.4" stroke="#222" stroke-width="1.4"/>
<line x1="260.52" y1="455.4" x2="260.52" y2="458.4" stroke="#222" stroke-width="1.4"/>
<text x="260.52" y="467.4" font-size="6.4" text-anchor="middle">21</text>
<line x1="268.69" y1="455.4" x2="268.69" y2="457.4" stroke="#222" stroke-width="1.4"/>
<line x1="276.86" y1="455.4" x2="276.86" y2="458.4" stroke="#222" stroke-width="1.4"/>
<text x="276.86" y="467.4" font-size="6.4" text-anchor="middle">28</text>
<line x1="285.03" y1="455.4" x2="285.03" y2="457.4" stroke="#222" stroke-width="1.4"/>
<line x1="293.2" y1="455.4" x2="293.2" y2="458.4" stroke="#222" stroke-width="1.4"/>
<text x="293.2" y="467.4" font-size="6.4" text-anchor="middle">38</text>
<line x1="301.37" y1="455.4" x2="301.37" y2="457.4" stroke="#222" stroke-width="1.4"/>
<line x1="309.54" y1="455.4" x2="309.54" y2="458.4" stroke="#222" stroke-width="1.4"/>
<text x="309.54" y="467.4" font-size="6.4" text-anchor="middle">52</text>
<line x1="317.71" y1="455.4" x2="317.71" y2="457.4" stroke="#222" stroke-width="1.4"/>
<line x1="325.88" y1="455.4" x2="325.88" y2="458.4" stroke="#222" stroke-width="1.4"/>
<text x="325.88" y="467.4" font-size="6.4" text-anchor="middle">66</text>
<line x1="334.05" y1="455.4" x2="334.05" y2="457.4" stroke="#222" stroke-width="1.4"/>
<line x1="342.22" y1="455.4" x2="342.22" y2="458.4" stroke="#222" stroke-width="1.4"/>
<text x="342.22" y="467.4" font-size="6.4" text-anchor="middle">80</text>
<text x="275.9" y="479.5" font-size="9.3" text-anchor="middle" textLength="73.4" lengthAdjust="spacingAndGlyphs" class="h">Days After Transplant</text>
<text x="189.27" y="407.9" font-size="8.4" text-anchor="middle" textLength="35.4" lengthAdjust="spacingAndGlyphs" transform="rotate(-90 189.27 407.9)" class="h">Weight (g)</text>
<polyline fill="none" stroke="#000" stroke-width="1.3" stroke-linejoin="round" points="211.5,378.57 219.67,389.81 227.84,385.12 236.01,390.75 244.18,384.19 252.35,380.44 260.52,374.44 268.69,381.1 276.86,385.59 285.03,385.59 293.2,383.63 301.37,380.16 309.54,375.94 317.71,372.01 325.88,379.78 334.05,378.19 342.22,375.94"/>
<polyline fill="none" stroke="#000" stroke-width="1.3" stroke-linejoin="round" points="211.5,380.44 219.67,393.56 227.84,403.87 236.01,394.5 244.18,391.68 252.35,387.37 260.52,391.78 268.69,396.56 276.86,408.83 285.03,419.23 293.2,426.92 301.37,433.76 309.54,437.03 317.71,437.41 325.88,439.1 334.05,440.03 342.22,437.78"/>
<polyline fill="none" stroke="#000" stroke-width="1.3" stroke-linejoin="round" points="211.5,377.63 219.67,400.12 227.84,405.74 236.01,402.93 244.18,399.27 252.35,410.61 260.52,416.05 268.69,425.6 276.86,436.29 285.03,440.22 293.2,453.71"/>
<polyline fill="none" stroke="#000" stroke-width="1.3" stroke-linejoin="round" points="211.5,376.69 219.67,398.24 227.84,429.16"/>
<polyline fill="none" stroke="#000" stroke-width="1.3" stroke-linejoin="round" points="211.5,371.07 219.67,397.31 227.84,409.49 236.01,392.62 244.18,393.56 252.35,428.23"/>
<line x1="211.5" y1="375.75" x2="211.5" y2="381.38" stroke="#000" stroke-width="1"/>
<line x1="208.3" y1="375.75" x2="214.7" y2="375.75" stroke="#000" stroke-width="1.1"/>
<line x1="208.3" y1="381.38" x2="214.7" y2="381.38" stroke="#000" stroke-width="1.1"/>
<line x1="219.67" y1="386.06" x2="219.67" y2="393.56" stroke="#000" stroke-width="1"/>
<line x1="216.47" y1="386.06" x2="222.87" y2="386.06" stroke="#000" stroke-width="1.1"/>
<line x1="216.47" y1="393.56" x2="222.87" y2="393.56" stroke="#000" stroke-width="1.1"/>
<line x1="227.84" y1="380.91" x2="227.84" y2="389.34" stroke="#000" stroke-width="1"/>
<line x1="224.64" y1="380.91" x2="231.04" y2="380.91" stroke="#000" stroke-width="1.1"/>
<line x1="224.64" y1="389.34" x2="231.04" y2="389.34" stroke="#000" stroke-width="1.1"/>
<line x1="236.01" y1="386.06" x2="236.01" y2="395.43" stroke="#000" stroke-width="1"/>
<line x1="232.81" y1="386.06" x2="239.21" y2="386.06" stroke="#000" stroke-width="1.1"/>
<line x1="232.81" y1="395.43" x2="239.21" y2="395.43" stroke="#000" stroke-width="1.1"/>
<line x1="244.18" y1="380.91" x2="244.18" y2="387.47" stroke="#000" stroke-width="1"/>
<line x1="240.98" y1="380.91" x2="247.38" y2="380.91" stroke="#000" stroke-width="1.1"/>
<line x1="240.98" y1="387.47" x2="247.38" y2="387.47" stroke="#000" stroke-width="1.1"/>
<line x1="252.35" y1="377.16" x2="252.35" y2="383.72" stroke="#000" stroke-width="1"/>
<line x1="249.15" y1="377.16" x2="255.55" y2="377.16" stroke="#000" stroke-width="1.1"/>
<line x1="249.15" y1="383.72" x2="255.55" y2="383.72" stroke="#000" stroke-width="1.1"/>
<line x1="260.52" y1="370.23" x2="260.52" y2="378.66" stroke="#000" stroke-width="1"/>
<line x1="257.32" y1="370.23" x2="263.72" y2="370.23" stroke="#000" stroke-width="1.1"/>
<line x1="257.32" y1="378.66" x2="263.72" y2="378.66" stroke="#000" stroke-width="1.1"/>
<line x1="268.69" y1="376.41" x2="268.69" y2="385.78" stroke="#000" stroke-width="1"/>
<line x1="265.49" y1="376.41" x2="271.89" y2="376.41" stroke="#000" stroke-width="1.1"/>
<line x1="265.49" y1="385.78" x2="271.89" y2="385.78" stroke="#000" stroke-width="1.1"/>
<line x1="276.86" y1="379.97" x2="276.86" y2="391.22" stroke="#000" stroke-width="1"/>
<line x1="273.66" y1="379.97" x2="280.06" y2="379.97" stroke="#000" stroke-width="1.1"/>
<line x1="273.66" y1="391.22" x2="280.06" y2="391.22" stroke="#000" stroke-width="1.1"/>
<line x1="285.03" y1="379.97" x2="285.03" y2="391.22" stroke="#000" stroke-width="1"/>
<line x1="281.83" y1="379.97" x2="288.23" y2="379.97" stroke="#000" stroke-width="1.1"/>
<line x1="281.83" y1="391.22" x2="288.23" y2="391.22" stroke="#000" stroke-width="1.1"/>
<line x1="293.2" y1="377.25" x2="293.2" y2="390" stroke="#000" stroke-width="1"/>
<line x1="290" y1="377.25" x2="296.4" y2="377.25" stroke="#000" stroke-width="1.1"/>
<line x1="290" y1="390" x2="296.4" y2="390" stroke="#000" stroke-width="1.1"/>
<line x1="301.37" y1="374.63" x2="301.37" y2="385.69" stroke="#000" stroke-width="1"/>
<line x1="298.17" y1="374.63" x2="304.57" y2="374.63" stroke="#000" stroke-width="1.1"/>
<line x1="298.17" y1="385.69" x2="304.57" y2="385.69" stroke="#000" stroke-width="1.1"/>
<line x1="309.54" y1="371.44" x2="309.54" y2="380.44" stroke="#000" stroke-width="1"/>
<line x1="306.34" y1="371.44" x2="312.74" y2="371.44" stroke="#000" stroke-width="1.1"/>
<line x1="306.34" y1="380.44" x2="312.74" y2="380.44" stroke="#000" stroke-width="1.1"/>
<line x1="317.71" y1="367.6" x2="317.71" y2="376.41" stroke="#000" stroke-width="1"/>
<line x1="314.51" y1="367.6" x2="320.91" y2="367.6" stroke="#000" stroke-width="1.1"/>
<line x1="314.51" y1="376.41" x2="320.91" y2="376.41" stroke="#000" stroke-width="1.1"/>
<line x1="325.88" y1="376.32" x2="325.88" y2="383.25" stroke="#000" stroke-width="1"/>
<line x1="322.68" y1="376.32" x2="329.08" y2="376.32" stroke="#000" stroke-width="1.1"/>
<line x1="322.68" y1="383.25" x2="329.08" y2="383.25" stroke="#000" stroke-width="1.1"/>
<line x1="334.05" y1="375.66" x2="334.05" y2="380.72" stroke="#000" stroke-width="1"/>
<line x1="330.85" y1="375.66" x2="337.25" y2="375.66" stroke="#000" stroke-width="1.1"/>
<line x1="330.85" y1="380.72" x2="337.25" y2="380.72" stroke="#000" stroke-width="1.1"/>
<line x1="342.22" y1="371.26" x2="342.22" y2="380.63" stroke="#000" stroke-width="1"/>
<line x1="339.02" y1="371.26" x2="345.42" y2="371.26" stroke="#000" stroke-width="1.1"/>
<line x1="339.02" y1="380.63" x2="345.42" y2="380.63" stroke="#000" stroke-width="1.1"/>
<line x1="219.67" y1="388.87" x2="219.67" y2="398.24" stroke="#000" stroke-width="1"/>
<line x1="216.47" y1="388.87" x2="222.87" y2="388.87" stroke="#000" stroke-width="1.1"/>
<line x1="216.47" y1="398.24" x2="222.87" y2="398.24" stroke="#000" stroke-width="1.1"/>
<line x1="227.84" y1="398.24" x2="227.84" y2="409.49" stroke="#000" stroke-width="1"/>
<line x1="224.64" y1="398.24" x2="231.04" y2="398.24" stroke="#000" stroke-width="1.1"/>
<line x1="224.64" y1="409.49" x2="231.04" y2="409.49" stroke="#000" stroke-width="1.1"/>
<line x1="236.01" y1="390.75" x2="236.01" y2="398.24" stroke="#000" stroke-width="1"/>
<line x1="232.81" y1="390.75" x2="239.21" y2="390.75" stroke="#000" stroke-width="1.1"/>
<line x1="232.81" y1="398.24" x2="239.21" y2="398.24" stroke="#000" stroke-width="1.1"/>
<line x1="244.18" y1="388.87" x2="244.18" y2="394.49" stroke="#000" stroke-width="1"/>
<line x1="240.98" y1="388.87" x2="247.38" y2="388.87" stroke="#000" stroke-width="1.1"/>
<line x1="240.98" y1="394.49" x2="247.38" y2="394.49" stroke="#000" stroke-width="1.1"/>
<line x1="252.35" y1="384.56" x2="252.35" y2="390.18" stroke="#000" stroke-width="1"/>
<line x1="249.15" y1="384.56" x2="255.55" y2="384.56" stroke="#000" stroke-width="1.1"/>
<line x1="249.15" y1="390.18" x2="255.55" y2="390.18" stroke="#000" stroke-width="1.1"/>
<line x1="260.52" y1="388.97" x2="260.52" y2="394.59" stroke="#000" stroke-width="1"/>
<line x1="257.32" y1="388.97" x2="263.72" y2="388.97" stroke="#000" stroke-width="1.1"/>
<line x1="257.32" y1="394.59" x2="263.72" y2="394.59" stroke="#000" stroke-width="1.1"/>
<line x1="268.69" y1="393.75" x2="268.69" y2="399.37" stroke="#000" stroke-width="1"/>
<line x1="265.49" y1="393.75" x2="271.89" y2="393.75" stroke="#000" stroke-width="1.1"/>
<line x1="265.49" y1="399.37" x2="271.89" y2="399.37" stroke="#000" stroke-width="1.1"/>
<line x1="276.86" y1="406.02" x2="276.86" y2="411.64" stroke="#000" stroke-width="1"/>
<line x1="273.66" y1="406.02" x2="280.06" y2="406.02" stroke="#000" stroke-width="1.1"/>
<line x1="273.66" y1="411.64" x2="280.06" y2="411.64" stroke="#000" stroke-width="1.1"/>
<line x1="285.03" y1="416.42" x2="285.03" y2="422.04" stroke="#000" stroke-width="1"/>
<line x1="281.83" y1="416.42" x2="288.23" y2="416.42" stroke="#000" stroke-width="1.1"/>
<line x1="281.83" y1="422.04" x2="288.23" y2="422.04" stroke="#000" stroke-width="1.1"/>
<line x1="293.2" y1="423.17" x2="293.2" y2="430.66" stroke="#000" stroke-width="1"/>
<line x1="290" y1="423.17" x2="296.4" y2="423.17" stroke="#000" stroke-width="1.1"/>
<line x1="290" y1="430.66" x2="296.4" y2="430.66" stroke="#000" stroke-width="1.1"/>
<line x1="301.37" y1="427.38" x2="301.37" y2="440.13" stroke="#000" stroke-width="1"/>
<line x1="298.17" y1="427.38" x2="304.57" y2="427.38" stroke="#000" stroke-width="1.1"/>
<line x1="298.17" y1="440.13" x2="304.57" y2="440.13" stroke="#000" stroke-width="1.1"/>
<line x1="309.54" y1="433.01" x2="309.54" y2="441.06" stroke="#000" stroke-width="1"/>
<line x1="306.34" y1="433.01" x2="312.74" y2="433.01" stroke="#000" stroke-width="1.1"/>
<line x1="306.34" y1="441.06" x2="312.74" y2="441.06" stroke="#000" stroke-width="1.1"/>
<line x1="317.71" y1="428.98" x2="317.71" y2="445.84" stroke="#000" stroke-width="1"/>
<line x1="314.51" y1="428.98" x2="320.91" y2="428.98" stroke="#000" stroke-width="1.1"/>
<line x1="314.51" y1="445.84" x2="320.91" y2="445.84" stroke="#000" stroke-width="1.1"/>
<line x1="325.88" y1="434.13" x2="325.88" y2="444.06" stroke="#000" stroke-width="1"/>
<line x1="322.68" y1="434.13" x2="329.08" y2="434.13" stroke="#000" stroke-width="1.1"/>
<line x1="322.68" y1="444.06" x2="329.08" y2="444.06" stroke="#000" stroke-width="1.1"/>
<line x1="219.67" y1="396.37" x2="219.67" y2="403.87" stroke="#000" stroke-width="1"/>
<line x1="216.47" y1="396.37" x2="222.87" y2="396.37" stroke="#000" stroke-width="1.1"/>
<line x1="216.47" y1="403.87" x2="222.87" y2="403.87" stroke="#000" stroke-width="1.1"/>
<line x1="227.84" y1="401.05" x2="227.84" y2="410.42" stroke="#000" stroke-width="1"/>
<line x1="224.64" y1="401.05" x2="231.04" y2="401.05" stroke="#000" stroke-width="1.1"/>
<line x1="224.64" y1="410.42" x2="231.04" y2="410.42" stroke="#000" stroke-width="1.1"/>
<line x1="236.01" y1="396.37" x2="236.01" y2="409.49" stroke="#000" stroke-width="1"/>
<line x1="232.81" y1="396.37" x2="239.21" y2="396.37" stroke="#000" stroke-width="1.1"/>
<line x1="232.81" y1="409.49" x2="239.21" y2="409.49" stroke="#000" stroke-width="1.1"/>
<line x1="244.18" y1="395.06" x2="244.18" y2="403.49" stroke="#000" stroke-width="1"/>
<line x1="240.98" y1="395.06" x2="247.38" y2="395.06" stroke="#000" stroke-width="1.1"/>
<line x1="240.98" y1="403.49" x2="247.38" y2="403.49" stroke="#000" stroke-width="1.1"/>
<line x1="252.35" y1="406.86" x2="252.35" y2="414.36" stroke="#000" stroke-width="1"/>
<line x1="249.15" y1="406.86" x2="255.55" y2="406.86" stroke="#000" stroke-width="1.1"/>
<line x1="249.15" y1="414.36" x2="255.55" y2="414.36" stroke="#000" stroke-width="1.1"/>
<line x1="260.52" y1="413.24" x2="260.52" y2="418.86" stroke="#000" stroke-width="1"/>
<line x1="257.32" y1="413.24" x2="263.72" y2="413.24" stroke="#000" stroke-width="1.1"/>
<line x1="257.32" y1="418.86" x2="263.72" y2="418.86" stroke="#000" stroke-width="1.1"/>
<line x1="268.69" y1="419.23" x2="268.69" y2="431.97" stroke="#000" stroke-width="1"/>
<line x1="265.49" y1="419.23" x2="271.89" y2="419.23" stroke="#000" stroke-width="1.1"/>
<line x1="265.49" y1="431.97" x2="271.89" y2="431.97" stroke="#000" stroke-width="1.1"/>
<line x1="276.86" y1="433.47" x2="276.86" y2="439.1" stroke="#000" stroke-width="1"/>
<line x1="273.66" y1="433.47" x2="280.06" y2="433.47" stroke="#000" stroke-width="1.1"/>
<line x1="273.66" y1="439.1" x2="280.06" y2="439.1" stroke="#000" stroke-width="1.1"/>
<line x1="285.03" y1="434.22" x2="285.03" y2="446.22" stroke="#000" stroke-width="1"/>
<line x1="281.83" y1="434.22" x2="288.23" y2="434.22" stroke="#000" stroke-width="1.1"/>
<line x1="281.83" y1="446.22" x2="288.23" y2="446.22" stroke="#000" stroke-width="1.1"/>
<line x1="219.67" y1="393.56" x2="219.67" y2="402.93" stroke="#000" stroke-width="1"/>
<line x1="216.47" y1="393.56" x2="222.87" y2="393.56" stroke="#000" stroke-width="1.1"/>
<line x1="216.47" y1="402.93" x2="222.87" y2="402.93" stroke="#000" stroke-width="1.1"/>
<line x1="227.84" y1="426.35" x2="227.84" y2="431.97" stroke="#000" stroke-width="1"/>
<line x1="224.64" y1="426.35" x2="231.04" y2="426.35" stroke="#000" stroke-width="1.1"/>
<line x1="224.64" y1="431.97" x2="231.04" y2="431.97" stroke="#000" stroke-width="1.1"/>
<circle cx="211.5" cy="378.57" r="3.1" fill="#fff" stroke="#000" stroke-width="1"/>
<circle cx="219.67" cy="389.81" r="3.1" fill="#fff" stroke="#000" stroke-width="1"/>
<circle cx="227.84" cy="385.12" r="3.1" fill="#fff" stroke="#000" stroke-width="1"/>
<circle cx="236.01" cy="390.75" r="3.1" fill="#fff" stroke="#000" stroke-width="1"/>
<circle cx="244.18" cy="384.19" r="3.1" fill="#fff" stroke="#000" stroke-width="1"/>
<circle cx="252.35" cy="380.44" r="3.1" fill="#fff" stroke="#000" stroke-width="1"/>
<circle cx="260.52" cy="374.44" r="3.1" fill="#fff" stroke="#000" stroke-width="1"/>
<circle cx="268.69" cy="381.1" r="3.1" fill="#fff" stroke="#000" stroke-width="1"/>
<circle cx="276.86" cy="385.59" r="3.1" fill="#fff" stroke="#000" stroke-width="1"/>
<circle cx="285.03" cy="385.59" r="3.1" fill="#fff" stroke="#000" stroke-width="1"/>
<circle cx="293.2" cy="383.63" r="3.1" fill="#fff" stroke="#000" stroke-width="1"/>
<circle cx="301.37" cy="380.16" r="3.1" fill="#fff" stroke="#000" stroke-width="1"/>
<circle cx="309.54" cy="375.94" r="3.1" fill="#fff" stroke="#000" stroke-width="1"/>
<circle cx="317.71" cy="372.01" r="3.1" fill="#fff" stroke="#000" stroke-width="1"/>
<circle cx="325.88" cy="379.78" r="3.1" fill="#fff" stroke="#000" stroke-width="1"/>
<circle cx="334.05" cy="378.19" r="3.1" fill="#fff" stroke="#000" stroke-width="1"/>
<circle cx="342.22" cy="375.94" r="3.1" fill="#fff" stroke="#000" stroke-width="1"/>
<polygon points="211.5,377.56 208.62,382.6 214.38,382.6" fill="#fff" stroke="#000" stroke-width="1"/>
<polygon points="219.67,390.68 216.79,395.71 222.54,395.71" fill="#fff" stroke="#000" stroke-width="1"/>
<polygon points="227.84,400.99 224.97,406.02 230.72,406.02" fill="#fff" stroke="#000" stroke-width="1"/>
<polygon points="236.01,391.62 233.13,396.65 238.88,396.65" fill="#fff" stroke="#000" stroke-width="1"/>
<polygon points="244.18,388.81 241.31,393.84 247.06,393.84" fill="#fff" stroke="#000" stroke-width="1"/>
<polygon points="252.35,384.5 249.47,389.53 255.22,389.53" fill="#fff" stroke="#000" stroke-width="1"/>
<polygon points="260.52,388.9 257.64,393.93 263.39,393.93" fill="#fff" stroke="#000" stroke-width="1"/>
<polygon points="268.69,393.68 265.81,398.71 271.56,398.71" fill="#fff" stroke="#000" stroke-width="1"/>
<polygon points="276.86,405.96 273.99,410.99 279.74,410.99" fill="#fff" stroke="#000" stroke-width="1"/>
<polygon points="285.03,416.36 282.15,421.39 287.9,421.39" fill="#fff" stroke="#000" stroke-width="1"/>
<polygon points="293.2,424.04 290.32,429.07 296.07,429.07" fill="#fff" stroke="#000" stroke-width="1"/>
<polygon points="301.37,430.88 298.5,435.91 304.25,435.91" fill="#fff" stroke="#000" stroke-width="1"/>
<polygon points="309.54,434.16 306.66,439.19 312.41,439.19" fill="#fff" stroke="#000" stroke-width="1"/>
<polygon points="317.71,434.53 314.83,439.57 320.58,439.57" fill="#fff" stroke="#000" stroke-width="1"/>
<polygon points="325.88,436.22 323,441.25 328.75,441.25" fill="#fff" stroke="#000" stroke-width="1"/>
<polygon points="334.05,437.16 331.18,442.19 336.93,442.19" fill="#fff" stroke="#000" stroke-width="1"/>
<polygon points="342.22,434.91 339.35,439.94 345.1,439.94" fill="#fff" stroke="#000" stroke-width="1"/>
<polygon points="211.5,374.75 208.62,379.79 214.38,379.79" fill="#000" stroke="#000" stroke-width="0.8"/>
<polygon points="219.67,397.24 216.79,402.27 222.54,402.27" fill="#000" stroke="#000" stroke-width="0.8"/>
<polygon points="227.84,402.86 224.97,407.9 230.72,407.9" fill="#000" stroke="#000" stroke-width="0.8"/>
<polygon points="236.01,400.05 233.13,405.08 238.88,405.08" fill="#000" stroke="#000" stroke-width="0.8"/>
<polygon points="244.18,396.4 241.31,401.43 247.06,401.43" fill="#000" stroke="#000" stroke-width="0.8"/>
<polygon points="252.35,407.74 249.47,412.77 255.22,412.77" fill="#000" stroke="#000" stroke-width="0.8"/>
<polygon points="260.52,413.17 257.64,418.2 263.39,418.2" fill="#000" stroke="#000" stroke-width="0.8"/>
<polygon points="268.69,422.73 265.81,427.76 271.56,427.76" fill="#000" stroke="#000" stroke-width="0.8"/>
<polygon points="276.86,433.41 273.99,438.44 279.74,438.44" fill="#000" stroke="#000" stroke-width="0.8"/>
<polygon points="285.03,437.35 282.15,442.38 287.9,442.38" fill="#000" stroke="#000" stroke-width="0.8"/>
<polygon points="293.2,450.84 290.32,455.87 296.07,455.87" fill="#000" stroke="#000" stroke-width="0.8"/>
<rect x="209" y="374.19" width="5" height="5" fill="#000"/>
<rect x="217.17" y="395.74" width="5" height="5" fill="#000"/>
<rect x="225.34" y="426.66" width="5" height="5" fill="#000"/>
<polygon points="211.5,368.38 214.19,371.07 211.5,373.76 208.81,371.07" fill="#aaa" stroke="#000" stroke-width="1.1"/>
<polygon points="219.67,394.62 222.36,397.31 219.67,399.99 216.98,397.31" fill="#aaa" stroke="#000" stroke-width="1.1"/>
<polygon points="227.84,406.8 230.53,409.49 227.84,412.17 225.15,409.49" fill="#aaa" stroke="#000" stroke-width="1.1"/>
<polygon points="236.01,389.93 238.7,392.62 236.01,395.31 233.32,392.62" fill="#aaa" stroke="#000" stroke-width="1.1"/>
<polygon points="244.18,390.87 246.87,393.56 244.18,396.25 241.49,393.56" fill="#aaa" stroke="#000" stroke-width="1.1"/>
<polygon points="252.35,425.54 255.04,428.23 252.35,430.91 249.66,428.23" fill="#aaa" stroke="#000" stroke-width="1.1"/>
<text x="224.54" y="439.1" font-size="7" text-anchor="middle">*</text>
<text x="227.84" y="439.1" font-size="7" text-anchor="middle">*</text>
<text x="231.14" y="439.1" font-size="7" text-anchor="middle">*</text>
<text x="249.05" y="436.7" font-size="7" text-anchor="middle">*</text>
<text x="252.35" y="436.7" font-size="7" text-anchor="middle">*</text>
<text x="255.65" y="436.7" font-size="7" text-anchor="middle">*</text>
<text x="250.7" y="404.3" font-size="7" text-anchor="middle">*</text>
<text x="254" y="404.3" font-size="7" text-anchor="middle">*</text>
<text x="260.52" y="414.1" font-size="7" text-anchor="middle">*</text>
<text x="267.05" y="416.5" font-size="7" text-anchor="middle">*</text>
<text x="270.35" y="416.5" font-size="7" text-anchor="middle">*</text>
<text x="275.1" y="431.7" font-size="7" text-anchor="middle">*</text>
<text x="278.4" y="431.7" font-size="7" text-anchor="middle">*</text>
<text x="281.7" y="431.7" font-size="7" text-anchor="middle">*</text>
<text x="284.45" y="434.9" font-size="7" text-anchor="middle">*</text>
<text x="287.75" y="434.9" font-size="7" text-anchor="middle">*</text>
<text x="294.4" y="450.4" font-size="7" text-anchor="middle">*</text>
<text x="364.2" y="349.9" font-size="11.8" font-weight="bold" textLength="7.84" lengthAdjust="spacingAndGlyphs" fill="#000" class="lt">K</text>
<line x1="383.5" y1="360" x2="383.5" y2="455.3" stroke="#222" stroke-width="1.4"/>
<line x1="380.5" y1="362.1" x2="383.5" y2="362.1" stroke="#222" stroke-width="1.4"/>
<text x="377.5" y="364.9" font-size="6.4" text-anchor="end">10</text>
<line x1="380.5" y1="380.72" x2="383.5" y2="380.72" stroke="#222" stroke-width="1.4"/>
<text x="377.5" y="383.52" font-size="6.4" text-anchor="end">8</text>
<line x1="380.5" y1="399.34" x2="383.5" y2="399.34" stroke="#222" stroke-width="1.4"/>
<text x="377.5" y="402.14" font-size="6.4" text-anchor="end">6</text>
<line x1="380.5" y1="417.96" x2="383.5" y2="417.96" stroke="#222" stroke-width="1.4"/>
<text x="377.5" y="420.76" font-size="6.4" text-anchor="end">4</text>
<line x1="380.5" y1="436.58" x2="383.5" y2="436.58" stroke="#222" stroke-width="1.4"/>
<text x="377.5" y="439.38" font-size="6.4" text-anchor="end">2</text>
<line x1="380.5" y1="455.2" x2="383.5" y2="455.2" stroke="#222" stroke-width="1.4"/>
<text x="377.5" y="458" font-size="6.4" text-anchor="end">0</text>
<line x1="383.5" y1="455.3" x2="512.5" y2="455.3" stroke="#222" stroke-width="1.4"/>
<line x1="387.6" y1="455.3" x2="387.6" y2="458.3" stroke="#222" stroke-width="1.4"/>
<text x="387.6" y="467.3" font-size="6.4" text-anchor="middle">4</text>
<line x1="396.26" y1="455.3" x2="396.26" y2="457.3" stroke="#222" stroke-width="1.4"/>
<line x1="404.92" y1="455.3" x2="404.92" y2="458.3" stroke="#222" stroke-width="1.4"/>
<text x="404.92" y="467.3" font-size="6.4" text-anchor="middle">11</text>
<line x1="413.58" y1="455.3" x2="413.58" y2="457.3" stroke="#222" stroke-width="1.4"/>
<line x1="422.24" y1="455.3" x2="422.24" y2="458.3" stroke="#222" stroke-width="1.4"/>
<text x="422.24" y="467.3" font-size="6.4" text-anchor="middle">18</text>
<line x1="430.9" y1="455.3" x2="430.9" y2="457.3" stroke="#222" stroke-width="1.4"/>
<line x1="439.56" y1="455.3" x2="439.56" y2="458.3" stroke="#222" stroke-width="1.4"/>
<text x="439.56" y="467.3" font-size="6.4" text-anchor="middle">25</text>
<line x1="448.22" y1="455.3" x2="448.22" y2="457.3" stroke="#222" stroke-width="1.4"/>
<line x1="456.88" y1="455.3" x2="456.88" y2="458.3" stroke="#222" stroke-width="1.4"/>
<text x="456.88" y="467.3" font-size="6.4" text-anchor="middle">39</text>
<line x1="465.54" y1="455.3" x2="465.54" y2="457.3" stroke="#222" stroke-width="1.4"/>
<line x1="474.2" y1="455.3" x2="474.2" y2="458.3" stroke="#222" stroke-width="1.4"/>
<text x="474.2" y="467.3" font-size="6.4" text-anchor="middle">53</text>
<line x1="482.86" y1="455.3" x2="482.86" y2="457.3" stroke="#222" stroke-width="1.4"/>
<line x1="491.52" y1="455.3" x2="491.52" y2="458.3" stroke="#222" stroke-width="1.4"/>
<text x="491.52" y="467.3" font-size="6.4" text-anchor="middle">67</text>
<line x1="500.18" y1="455.3" x2="500.18" y2="457.3" stroke="#222" stroke-width="1.4"/>
<line x1="508.84" y1="455.3" x2="508.84" y2="458.3" stroke="#222" stroke-width="1.4"/>
<text x="508.84" y="467.3" font-size="6.4" text-anchor="middle">80</text>
<text x="447.6" y="479.5" font-size="9.3" text-anchor="middle" textLength="72" lengthAdjust="spacingAndGlyphs" class="h">Days After Transplant</text>
<text x="365.47" y="407.9" font-size="8.4" text-anchor="middle" textLength="45.8" lengthAdjust="spacingAndGlyphs" transform="rotate(-90 365.47 407.9)" class="h">Clinical Score</text>
<polyline fill="none" stroke="#000" stroke-width="1.3" stroke-linejoin="round" points="387.6,452.87 396.26,445.89 404.92,455.2 413.58,452.41 422.24,455.2 430.9,455.2 439.56,455.2 448.22,455.2 456.88,455.2 465.54,455.2 474.2,455.2 482.86,455.2 491.52,455.2 500.18,445.89 508.84,445.89"/>
<polyline fill="none" stroke="#000" stroke-width="1.3" stroke-linejoin="round" points="387.6,424.48 396.26,411.44 404.92,438.91 413.58,440.77 422.24,444.49 430.9,450.08 439.56,451.48 448.22,436.58 456.88,434.72 465.54,413.31 474.2,409.58 482.86,413.31 491.52,403.53 500.18,409.12 508.84,403.53"/>
<polyline fill="none" stroke="#000" stroke-width="1.3" stroke-linejoin="round" points="387.6,415.17 396.26,404.46 404.92,430.06 413.58,419.82 422.24,418.43 430.9,417.96 439.56,409.58 448.22,381.19 456.88,371.78"/>
<polyline fill="none" stroke="#000" stroke-width="1.3" stroke-linejoin="round" points="387.6,409.58 396.26,380.72"/>
<polyline fill="none" stroke="#000" stroke-width="1.3" stroke-linejoin="round" points="387.6,439.37 396.26,425.41 404.92,445.89 413.58,411.44"/>
<line x1="387.6" y1="421.68" x2="387.6" y2="427.27" stroke="#000" stroke-width="0.9"/>
<line x1="384.6" y1="421.68" x2="390.6" y2="421.68" stroke="#000" stroke-width="0.9"/>
<line x1="384.6" y1="427.27" x2="390.6" y2="427.27" stroke="#000" stroke-width="0.9"/>
<line x1="396.26" y1="406.79" x2="396.26" y2="416.1" stroke="#000" stroke-width="0.9"/>
<line x1="393.26" y1="406.79" x2="399.26" y2="406.79" stroke="#000" stroke-width="0.9"/>
<line x1="393.26" y1="416.1" x2="399.26" y2="416.1" stroke="#000" stroke-width="0.9"/>
<line x1="404.92" y1="436.11" x2="404.92" y2="441.7" stroke="#000" stroke-width="0.9"/>
<line x1="401.92" y1="436.11" x2="407.92" y2="436.11" stroke="#000" stroke-width="0.9"/>
<line x1="401.92" y1="441.7" x2="407.92" y2="441.7" stroke="#000" stroke-width="0.9"/>
<line x1="413.58" y1="438.91" x2="413.58" y2="442.63" stroke="#000" stroke-width="0.9"/>
<line x1="410.58" y1="438.91" x2="416.58" y2="438.91" stroke="#000" stroke-width="0.9"/>
<line x1="410.58" y1="442.63" x2="416.58" y2="442.63" stroke="#000" stroke-width="0.9"/>
<line x1="422.24" y1="442.63" x2="422.24" y2="446.36" stroke="#000" stroke-width="0.9"/>
<line x1="419.24" y1="442.63" x2="425.24" y2="442.63" stroke="#000" stroke-width="0.9"/>
<line x1="419.24" y1="446.36" x2="425.24" y2="446.36" stroke="#000" stroke-width="0.9"/>
<line x1="430.9" y1="448.22" x2="430.9" y2="451.94" stroke="#000" stroke-width="0.9"/>
<line x1="427.9" y1="448.22" x2="433.9" y2="448.22" stroke="#000" stroke-width="0.9"/>
<line x1="427.9" y1="451.94" x2="433.9" y2="451.94" stroke="#000" stroke-width="0.9"/>
<line x1="439.56" y1="449.61" x2="439.56" y2="453.34" stroke="#000" stroke-width="0.9"/>
<line x1="436.56" y1="449.61" x2="442.56" y2="449.61" stroke="#000" stroke-width="0.9"/>
<line x1="436.56" y1="453.34" x2="442.56" y2="453.34" stroke="#000" stroke-width="0.9"/>
<line x1="448.22" y1="434.72" x2="448.22" y2="438.44" stroke="#000" stroke-width="0.9"/>
<line x1="445.22" y1="434.72" x2="451.22" y2="434.72" stroke="#000" stroke-width="0.9"/>
<line x1="445.22" y1="438.44" x2="451.22" y2="438.44" stroke="#000" stroke-width="0.9"/>
<line x1="456.88" y1="432.86" x2="456.88" y2="436.58" stroke="#000" stroke-width="0.9"/>
<line x1="453.88" y1="432.86" x2="459.88" y2="432.86" stroke="#000" stroke-width="0.9"/>
<line x1="453.88" y1="436.58" x2="459.88" y2="436.58" stroke="#000" stroke-width="0.9"/>
<line x1="465.54" y1="410.51" x2="465.54" y2="416.1" stroke="#000" stroke-width="0.9"/>
<line x1="462.54" y1="410.51" x2="468.54" y2="410.51" stroke="#000" stroke-width="0.9"/>
<line x1="462.54" y1="416.1" x2="468.54" y2="416.1" stroke="#000" stroke-width="0.9"/>
<line x1="474.2" y1="403.99" x2="474.2" y2="415.17" stroke="#000" stroke-width="0.9"/>
<line x1="471.2" y1="403.99" x2="477.2" y2="403.99" stroke="#000" stroke-width="0.9"/>
<line x1="471.2" y1="415.17" x2="477.2" y2="415.17" stroke="#000" stroke-width="0.9"/>
<line x1="482.86" y1="404.93" x2="482.86" y2="421.68" stroke="#000" stroke-width="0.9"/>
<line x1="479.86" y1="404.93" x2="485.86" y2="404.93" stroke="#000" stroke-width="0.9"/>
<line x1="479.86" y1="421.68" x2="485.86" y2="421.68" stroke="#000" stroke-width="0.9"/>
<line x1="491.52" y1="400.74" x2="491.52" y2="406.32" stroke="#000" stroke-width="0.9"/>
<line x1="488.52" y1="400.74" x2="494.52" y2="400.74" stroke="#000" stroke-width="0.9"/>
<line x1="488.52" y1="406.32" x2="494.52" y2="406.32" stroke="#000" stroke-width="0.9"/>
<line x1="500.18" y1="399.81" x2="500.18" y2="418.43" stroke="#000" stroke-width="0.9"/>
<line x1="497.18" y1="399.81" x2="503.18" y2="399.81" stroke="#000" stroke-width="0.9"/>
<line x1="497.18" y1="418.43" x2="503.18" y2="418.43" stroke="#000" stroke-width="0.9"/>
<line x1="508.84" y1="400.74" x2="508.84" y2="406.32" stroke="#000" stroke-width="0.9"/>
<line x1="505.84" y1="400.74" x2="511.84" y2="400.74" stroke="#000" stroke-width="0.9"/>
<line x1="505.84" y1="406.32" x2="511.84" y2="406.32" stroke="#000" stroke-width="0.9"/>
<line x1="387.6" y1="412.37" x2="387.6" y2="417.96" stroke="#000" stroke-width="0.9"/>
<line x1="384.6" y1="412.37" x2="390.6" y2="412.37" stroke="#000" stroke-width="0.9"/>
<line x1="384.6" y1="417.96" x2="390.6" y2="417.96" stroke="#000" stroke-width="0.9"/>
<line x1="396.26" y1="398.87" x2="396.26" y2="410.05" stroke="#000" stroke-width="0.9"/>
<line x1="393.26" y1="398.87" x2="399.26" y2="398.87" stroke="#000" stroke-width="0.9"/>
<line x1="393.26" y1="410.05" x2="399.26" y2="410.05" stroke="#000" stroke-width="0.9"/>
<line x1="404.92" y1="427.27" x2="404.92" y2="432.86" stroke="#000" stroke-width="0.9"/>
<line x1="401.92" y1="427.27" x2="407.92" y2="427.27" stroke="#000" stroke-width="0.9"/>
<line x1="401.92" y1="432.86" x2="407.92" y2="432.86" stroke="#000" stroke-width="0.9"/>
<line x1="413.58" y1="417.03" x2="413.58" y2="422.62" stroke="#000" stroke-width="0.9"/>
<line x1="410.58" y1="417.03" x2="416.58" y2="417.03" stroke="#000" stroke-width="0.9"/>
<line x1="410.58" y1="422.62" x2="416.58" y2="422.62" stroke="#000" stroke-width="0.9"/>
<line x1="422.24" y1="416.56" x2="422.24" y2="420.29" stroke="#000" stroke-width="0.9"/>
<line x1="419.24" y1="416.56" x2="425.24" y2="416.56" stroke="#000" stroke-width="0.9"/>
<line x1="419.24" y1="420.29" x2="425.24" y2="420.29" stroke="#000" stroke-width="0.9"/>
<line x1="430.9" y1="416.1" x2="430.9" y2="419.82" stroke="#000" stroke-width="0.9"/>
<line x1="427.9" y1="416.1" x2="433.9" y2="416.1" stroke="#000" stroke-width="0.9"/>
<line x1="427.9" y1="419.82" x2="433.9" y2="419.82" stroke="#000" stroke-width="0.9"/>
<line x1="439.56" y1="407.72" x2="439.56" y2="411.44" stroke="#000" stroke-width="0.9"/>
<line x1="436.56" y1="407.72" x2="442.56" y2="407.72" stroke="#000" stroke-width="0.9"/>
<line x1="436.56" y1="411.44" x2="442.56" y2="411.44" stroke="#000" stroke-width="0.9"/>
<line x1="448.22" y1="379.32" x2="448.22" y2="383.05" stroke="#000" stroke-width="0.9"/>
<line x1="445.22" y1="379.32" x2="451.22" y2="379.32" stroke="#000" stroke-width="0.9"/>
<line x1="445.22" y1="383.05" x2="451.22" y2="383.05" stroke="#000" stroke-width="0.9"/>
<line x1="456.88" y1="369.92" x2="456.88" y2="373.64" stroke="#000" stroke-width="0.9"/>
<line x1="453.88" y1="369.92" x2="459.88" y2="369.92" stroke="#000" stroke-width="0.9"/>
<line x1="453.88" y1="373.64" x2="459.88" y2="373.64" stroke="#000" stroke-width="0.9"/>
<line x1="387.6" y1="437.51" x2="387.6" y2="441.24" stroke="#000" stroke-width="0.9"/>
<line x1="384.6" y1="437.51" x2="390.6" y2="437.51" stroke="#000" stroke-width="0.9"/>
<line x1="384.6" y1="441.24" x2="390.6" y2="441.24" stroke="#000" stroke-width="0.9"/>
<line x1="396.26" y1="422.62" x2="396.26" y2="428.2" stroke="#000" stroke-width="0.9"/>
<line x1="393.26" y1="422.62" x2="399.26" y2="422.62" stroke="#000" stroke-width="0.9"/>
<line x1="393.26" y1="428.2" x2="399.26" y2="428.2" stroke="#000" stroke-width="0.9"/>
<line x1="404.92" y1="444.03" x2="404.92" y2="447.75" stroke="#000" stroke-width="0.9"/>
<line x1="401.92" y1="444.03" x2="407.92" y2="444.03" stroke="#000" stroke-width="0.9"/>
<line x1="401.92" y1="447.75" x2="407.92" y2="447.75" stroke="#000" stroke-width="0.9"/>
<line x1="413.58" y1="408.65" x2="413.58" y2="414.24" stroke="#000" stroke-width="0.9"/>
<line x1="410.58" y1="408.65" x2="416.58" y2="408.65" stroke="#000" stroke-width="0.9"/>
<line x1="410.58" y1="414.24" x2="416.58" y2="414.24" stroke="#000" stroke-width="0.9"/>
<circle cx="387.6" cy="452.87" r="3.1" fill="#fff" stroke="#000" stroke-width="1"/>
<circle cx="396.26" cy="445.89" r="3.1" fill="#fff" stroke="#000" stroke-width="1"/>
<circle cx="404.92" cy="455.2" r="3.1" fill="#fff" stroke="#000" stroke-width="1"/>
<circle cx="413.58" cy="452.41" r="3.1" fill="#fff" stroke="#000" stroke-width="1"/>
<circle cx="422.24" cy="455.2" r="3.1" fill="#fff" stroke="#000" stroke-width="1"/>
<circle cx="430.9" cy="455.2" r="3.1" fill="#fff" stroke="#000" stroke-width="1"/>
<circle cx="439.56" cy="455.2" r="3.1" fill="#fff" stroke="#000" stroke-width="1"/>
<circle cx="448.22" cy="455.2" r="3.1" fill="#fff" stroke="#000" stroke-width="1"/>
<circle cx="456.88" cy="455.2" r="3.1" fill="#fff" stroke="#000" stroke-width="1"/>
<circle cx="465.54" cy="455.2" r="3.1" fill="#fff" stroke="#000" stroke-width="1"/>
<circle cx="474.2" cy="455.2" r="3.1" fill="#fff" stroke="#000" stroke-width="1"/>
<circle cx="482.86" cy="455.2" r="3.1" fill="#fff" stroke="#000" stroke-width="1"/>
<circle cx="491.52" cy="455.2" r="3.1" fill="#fff" stroke="#000" stroke-width="1"/>
<circle cx="500.18" cy="445.89" r="3.1" fill="#fff" stroke="#000" stroke-width="1"/>
<circle cx="508.84" cy="445.89" r="3.1" fill="#fff" stroke="#000" stroke-width="1"/>
<polygon points="387.6,421.6 384.73,426.63 390.48,426.63" fill="#fff" stroke="#000" stroke-width="1"/>
<polygon points="396.26,408.57 393.39,413.6 399.14,413.6" fill="#fff" stroke="#000" stroke-width="1"/>
<polygon points="404.92,436.03 402.05,441.06 407.8,441.06" fill="#fff" stroke="#000" stroke-width="1"/>
<polygon points="413.58,437.89 410.71,442.93 416.46,442.93" fill="#fff" stroke="#000" stroke-width="1"/>
<polygon points="422.24,441.62 419.37,446.65 425.12,446.65" fill="#fff" stroke="#000" stroke-width="1"/>
<polygon points="430.9,447.2 428.03,452.24 433.78,452.24" fill="#fff" stroke="#000" stroke-width="1"/>
<polygon points="439.56,448.6 436.69,453.63 442.44,453.63" fill="#fff" stroke="#000" stroke-width="1"/>
<polygon points="448.22,433.7 445.35,438.74 451.1,438.74" fill="#fff" stroke="#000" stroke-width="1"/>
<polygon points="456.88,431.84 454,436.87 459.75,436.87" fill="#fff" stroke="#000" stroke-width="1"/>
<polygon points="465.54,410.43 462.67,415.46 468.42,415.46" fill="#fff" stroke="#000" stroke-width="1"/>
<polygon points="474.2,406.71 471.33,411.74 477.08,411.74" fill="#fff" stroke="#000" stroke-width="1"/>
<polygon points="482.86,410.43 479.99,415.46 485.74,415.46" fill="#fff" stroke="#000" stroke-width="1"/>
<polygon points="491.52,400.65 488.65,405.69 494.4,405.69" fill="#fff" stroke="#000" stroke-width="1"/>
<polygon points="500.18,406.24 497.31,411.27 503.06,411.27" fill="#fff" stroke="#000" stroke-width="1"/>
<polygon points="508.84,400.65 505.97,405.69 511.72,405.69" fill="#fff" stroke="#000" stroke-width="1"/>
<polygon points="387.6,412.29 384.73,417.32 390.48,417.32" fill="#000" stroke="#000" stroke-width="0.8"/>
<polygon points="396.26,401.59 393.39,406.62 399.14,406.62" fill="#000" stroke="#000" stroke-width="0.8"/>
<polygon points="404.92,427.19 402.05,432.22 407.8,432.22" fill="#000" stroke="#000" stroke-width="0.8"/>
<polygon points="413.58,416.95 410.71,421.98 416.46,421.98" fill="#000" stroke="#000" stroke-width="0.8"/>
<polygon points="422.24,415.55 419.37,420.58 425.12,420.58" fill="#000" stroke="#000" stroke-width="0.8"/>
<polygon points="430.9,415.08 428.03,420.12 433.78,420.12" fill="#000" stroke="#000" stroke-width="0.8"/>
<polygon points="439.56,406.71 436.69,411.74 442.44,411.74" fill="#000" stroke="#000" stroke-width="0.8"/>
<polygon points="448.22,378.31 445.35,383.34 451.1,383.34" fill="#000" stroke="#000" stroke-width="0.8"/>
<polygon points="456.88,368.91 454,373.94 459.75,373.94" fill="#000" stroke="#000" stroke-width="0.8"/>
<rect x="385.1" y="407.08" width="5" height="5" fill="#000"/>
<rect x="393.76" y="378.22" width="5" height="5" fill="#000"/>
<polygon points="387.6,437.07 390.5,439.37 387.6,441.67 384.7,439.37" fill="#ccc" stroke="#000" stroke-width="1.2"/>
<polygon points="396.26,423.11 399.16,425.41 396.26,427.71 393.36,425.41" fill="#ccc" stroke="#000" stroke-width="1.2"/>
<polygon points="404.92,443.59 407.82,445.89 404.92,448.19 402.02,445.89" fill="#ccc" stroke="#000" stroke-width="1.2"/>
<polygon points="413.58,409.14 416.48,411.44 413.58,413.74 410.68,411.44" fill="#ccc" stroke="#000" stroke-width="1.2"/>
<text x="392.9" y="378.3" font-size="7" text-anchor="middle">*</text>
<text x="396.2" y="378.3" font-size="7" text-anchor="middle">*</text>
<text x="399.5" y="378.3" font-size="7" text-anchor="middle">*</text>
<text x="408.75" y="407.9" font-size="7" text-anchor="middle">*</text>
<text x="412.05" y="407.9" font-size="7" text-anchor="middle">*</text>
<text x="415.35" y="407.9" font-size="7" text-anchor="middle">*</text>
<text x="418.65" y="407.9" font-size="7" text-anchor="middle">*</text>
<text x="412.05" y="434.9" font-size="7" text-anchor="middle">*</text>
<text x="415.35" y="434.9" font-size="7" text-anchor="middle">*</text>
<text x="419" y="438.4" font-size="7" text-anchor="middle">*</text>
<text x="422.3" y="438.4" font-size="7" text-anchor="middle">*</text>
<text x="425.6" y="438.4" font-size="7" text-anchor="middle">*</text>
<text x="429.55" y="445.6" font-size="7" text-anchor="middle">*</text>
<text x="432.85" y="445.6" font-size="7" text-anchor="middle">*</text>
<text x="439.2" y="445.6" font-size="7" text-anchor="middle">*</text>
<text x="442.5" y="445.6" font-size="7" text-anchor="middle">*</text>
<text x="445.8" y="445.6" font-size="7" text-anchor="middle">*</text>
<text x="437.55" y="433" font-size="7" text-anchor="middle">*</text>
<text x="440.85" y="433" font-size="7" text-anchor="middle">*</text>
<text x="444.15" y="433" font-size="7" text-anchor="middle">*</text>
<text x="447.45" y="433" font-size="7" text-anchor="middle">*</text>
<text x="447.25" y="427.3" font-size="7" text-anchor="middle">*</text>
<text x="450.55" y="427.3" font-size="7" text-anchor="middle">*</text>
<text x="453.85" y="427.3" font-size="7" text-anchor="middle">*</text>
<text x="457.15" y="427.3" font-size="7" text-anchor="middle">*</text>
<text x="7.6" y="507.7" font-size="11.8" font-weight="bold" textLength="6.63" lengthAdjust="spacingAndGlyphs" fill="#000" class="lt">L</text>
<line x1="31.6" y1="516.4" x2="31.6" y2="608.7" stroke="#222" stroke-width="1.4"/>
<line x1="28.8" y1="518.7" x2="31.6" y2="518.7" stroke="#222" stroke-width="1.4"/>
<text x="25.4" y="521.3" font-size="6.4" text-anchor="end">60</text>
<line x1="28.8" y1="549" x2="31.6" y2="549" stroke="#222" stroke-width="1.4"/>
<text x="25.4" y="551.6" font-size="6.4" text-anchor="end">40</text>
<line x1="28.8" y1="578.7" x2="31.6" y2="578.7" stroke="#222" stroke-width="1.4"/>
<text x="25.4" y="581.3" font-size="6.4" text-anchor="end">20</text>
<line x1="28.8" y1="608.7" x2="31.6" y2="608.7" stroke="#222" stroke-width="1.4"/>
<text x="25.4" y="611.3" font-size="6.4" text-anchor="end">0</text>
<line x1="31.6" y1="608.7" x2="115.8" y2="608.7" stroke="#222" stroke-width="1.4"/>
<rect x="35.5" y="600.3" width="11.3" height="8.4" fill="#cdcdcd"/>
<line x1="41.15" y1="597.1" x2="41.15" y2="600.3" stroke="#111" stroke-width="1.3"/>
<line x1="38.1" y1="597.1" x2="44.2" y2="597.1" stroke="#111" stroke-width="1.3"/>
<line x1="41.15" y1="608.7" x2="41.15" y2="611.5" stroke="#222" stroke-width="1.4"/>
<rect x="52.1" y="574.5" width="10.5" height="34.2" fill="#050505"/>
<line x1="57.35" y1="572.1" x2="57.35" y2="574.5" stroke="#111" stroke-width="1.3"/>
<line x1="54.52" y1="572.1" x2="60.19" y2="572.1" stroke="#111" stroke-width="1.3"/>
<line x1="57.35" y1="608.7" x2="57.35" y2="611.5" stroke="#222" stroke-width="1.4"/>
<rect x="68.1" y="537.7" width="11.5" height="71" fill="#383838"/>
<line x1="73.85" y1="531.5" x2="73.85" y2="537.7" stroke="#111" stroke-width="1.3"/>
<line x1="70.74" y1="531.5" x2="76.95" y2="531.5" stroke="#111" stroke-width="1.3"/>
<line x1="73.85" y1="608.7" x2="73.85" y2="611.5" stroke="#222" stroke-width="1.4"/>
<rect x="85" y="595" width="11" height="13.7" fill="#676767"/>
<line x1="90.5" y1="592.4" x2="90.5" y2="595" stroke="#111" stroke-width="1.3"/>
<line x1="87.53" y1="592.4" x2="93.47" y2="592.4" stroke="#111" stroke-width="1.3"/>
<line x1="90.5" y1="608.7" x2="90.5" y2="611.5" stroke="#222" stroke-width="1.4"/>
<rect x="102" y="557.3" width="11.4" height="51.4" fill="#9d9d9d"/>
<line x1="107.7" y1="554.5" x2="107.7" y2="557.3" stroke="#111" stroke-width="1.3"/>
<line x1="104.62" y1="554.5" x2="110.78" y2="554.5" stroke="#111" stroke-width="1.3"/>
<line x1="107.7" y1="608.7" x2="107.7" y2="611.5" stroke="#222" stroke-width="1.4"/>
<line x1="57.3" y1="514.9" x2="108.1" y2="514.9" stroke="#111" stroke-width="1.4"/>
<line x1="74.2" y1="521.1" x2="108.1" y2="521.1" stroke="#111" stroke-width="1.4"/>
<line x1="55.5" y1="528.8" x2="72.5" y2="528.8" stroke="#111" stroke-width="1.4"/>
<line x1="73.5" y1="528.8" x2="91.9" y2="528.8" stroke="#111" stroke-width="1.4"/>
<line x1="90.4" y1="552" x2="108.1" y2="552" stroke="#111" stroke-width="1.4"/>
<text x="81.9" y="515" font-size="7.4" text-anchor="middle">*</text>
<text x="90.8" y="521.6" font-size="7.4" text-anchor="middle">*</text>
<text x="62.35" y="529" font-size="7.4" text-anchor="middle">*</text>
<text x="66.05" y="529" font-size="7.4" text-anchor="middle">*</text>
<text x="79" y="529" font-size="7.4" text-anchor="middle">*</text>
<text x="82.7" y="529" font-size="7.4" text-anchor="middle">*</text>
<text x="86.4" y="529" font-size="7.4" text-anchor="middle">*</text>
<text x="95.5" y="552.8" font-size="7.4" text-anchor="middle">*</text>
<text x="99.2" y="552.8" font-size="7.4" text-anchor="middle">*</text>
<text x="102.9" y="552.8" font-size="7.4" text-anchor="middle">*</text>
<text x="43.75" y="618.5" font-size="7.56" text-anchor="end" textLength="24.15" lengthAdjust="spacingAndGlyphs" transform="rotate(-45 43.75 618.5)">BM Only</text>
<text x="59.95" y="618.5" font-size="7.56" text-anchor="end" textLength="21.71" lengthAdjust="spacingAndGlyphs" transform="rotate(-45 59.95 618.5)">aGVHD</text>
<text x="76.45" y="618.5" font-size="7.56" text-anchor="end" textLength="63.72" lengthAdjust="spacingAndGlyphs" transform="rotate(-45 76.45 618.5)">aGVHD (IL-2 complex)</text>
<text x="93.1" y="618.5" font-size="7.56" text-anchor="end" textLength="12.72" lengthAdjust="spacingAndGlyphs" transform="rotate(-45 93.1 618.5)">Treg</text>
<text x="110.3" y="618.5" font-size="7.56" text-anchor="end" textLength="54.73" lengthAdjust="spacingAndGlyphs" transform="rotate(-45 110.3 618.5)">Treg (IL-2 complex)</text>
<text x="13.01" y="562.5" font-size="7.3" text-anchor="middle" textLength="77.6" lengthAdjust="spacingAndGlyphs" transform="rotate(-90 13.01 562.5)" class="h">%CD25hi of CD4+Foxp3-</text>
<line x1="151.5" y1="513.4" x2="151.5" y2="608.7" stroke="#222" stroke-width="1.4"/>
<line x1="148.7" y1="515.5" x2="151.5" y2="515.5" stroke="#222" stroke-width="1.4"/>
<text x="145.3" y="518.1" font-size="6.4" text-anchor="end">60</text>
<line x1="148.7" y1="546.8" x2="151.5" y2="546.8" stroke="#222" stroke-width="1.4"/>
<text x="145.3" y="549.4" font-size="6.4" text-anchor="end">40</text>
<line x1="148.7" y1="577.9" x2="151.5" y2="577.9" stroke="#222" stroke-width="1.4"/>
<text x="145.3" y="580.5" font-size="6.4" text-anchor="end">20</text>
<line x1="148.7" y1="608.7" x2="151.5" y2="608.7" stroke="#222" stroke-width="1.4"/>
<text x="145.3" y="611.3" font-size="6.4" text-anchor="end">0</text>
<line x1="151.5" y1="608.7" x2="239.5" y2="608.7" stroke="#222" stroke-width="1.4"/>
<rect x="154" y="600.3" width="11.8" height="8.4" fill="#cdcdcd"/>
<line x1="159.9" y1="591.8" x2="159.9" y2="600.3" stroke="#111" stroke-width="1.3"/>
<line x1="156.71" y1="591.8" x2="163.09" y2="591.8" stroke="#111" stroke-width="1.3"/>
<line x1="159.9" y1="608.7" x2="159.9" y2="611.5" stroke="#222" stroke-width="1.4"/>
<rect x="171.8" y="571.8" width="11.6" height="36.9" fill="#050505"/>
<line x1="177.6" y1="566" x2="177.6" y2="571.8" stroke="#111" stroke-width="1.3"/>
<line x1="174.47" y1="566" x2="180.73" y2="566" stroke="#111" stroke-width="1.3"/>
<line x1="177.6" y1="608.7" x2="177.6" y2="611.5" stroke="#222" stroke-width="1.4"/>
<rect x="189.5" y="543.2" width="11.8" height="65.5" fill="#383838"/>
<line x1="195.4" y1="540.3" x2="195.4" y2="543.2" stroke="#111" stroke-width="1.3"/>
<line x1="192.21" y1="540.3" x2="198.59" y2="540.3" stroke="#111" stroke-width="1.3"/>
<line x1="195.4" y1="608.7" x2="195.4" y2="611.5" stroke="#222" stroke-width="1.4"/>
<rect x="207.1" y="590.3" width="11.9" height="18.4" fill="#676767"/>
<line x1="213.05" y1="583.7" x2="213.05" y2="590.3" stroke="#111" stroke-width="1.3"/>
<line x1="209.84" y1="583.7" x2="216.26" y2="583.7" stroke="#111" stroke-width="1.3"/>
<line x1="213.05" y1="608.7" x2="213.05" y2="611.5" stroke="#222" stroke-width="1.4"/>
<rect x="225" y="573.2" width="11.8" height="35.5" fill="#9d9d9d"/>
<line x1="230.9" y1="570.8" x2="230.9" y2="573.2" stroke="#111" stroke-width="1.3"/>
<line x1="227.71" y1="570.8" x2="234.09" y2="570.8" stroke="#111" stroke-width="1.3"/>
<line x1="230.9" y1="608.7" x2="230.9" y2="611.5" stroke="#222" stroke-width="1.4"/>
<line x1="178.9" y1="523.2" x2="231" y2="523.2" stroke="#111" stroke-width="1.4"/>
<line x1="196" y1="529.7" x2="231" y2="529.7" stroke="#111" stroke-width="1.4"/>
<line x1="176.8" y1="537.1" x2="195" y2="537.1" stroke="#111" stroke-width="1.4"/>
<line x1="196.5" y1="537.1" x2="214.5" y2="537.1" stroke="#111" stroke-width="1.4"/>
<line x1="213.2" y1="569.2" x2="230.3" y2="569.2" stroke="#111" stroke-width="1.4"/>
<text x="204" y="521" font-size="6" text-anchor="middle">ns</text>
<text x="212.15" y="531" font-size="7.4" text-anchor="middle">*</text>
<text x="215.85" y="531" font-size="7.4" text-anchor="middle">*</text>
<text x="184.15" y="538.4" font-size="7.4" text-anchor="middle">*</text>
<text x="187.85" y="538.4" font-size="7.4" text-anchor="middle">*</text>
<text x="201.6" y="538.4" font-size="7.4" text-anchor="middle">*</text>
<text x="205.3" y="538.4" font-size="7.4" text-anchor="middle">*</text>
<text x="209" y="538.4" font-size="7.4" text-anchor="middle">*</text>
<text x="222.4" y="569.4" font-size="7.4" text-anchor="middle">*</text>
<text x="162.5" y="618.5" font-size="7.56" text-anchor="end" textLength="24.15" lengthAdjust="spacingAndGlyphs" transform="rotate(-45 162.5 618.5)">BM Only</text>
<text x="180.2" y="618.5" font-size="7.56" text-anchor="end" textLength="21.71" lengthAdjust="spacingAndGlyphs" transform="rotate(-45 180.2 618.5)">aGVHD</text>
<text x="198" y="618.5" font-size="7.56" text-anchor="end" textLength="63.72" lengthAdjust="spacingAndGlyphs" transform="rotate(-45 198 618.5)">aGVHD (IL-2 complex)</text>
<text x="215.65" y="618.5" font-size="7.56" text-anchor="end" textLength="12.72" lengthAdjust="spacingAndGlyphs" transform="rotate(-45 215.65 618.5)">Treg</text>
<text x="233.5" y="618.5" font-size="7.56" text-anchor="end" textLength="54.73" lengthAdjust="spacingAndGlyphs" transform="rotate(-45 233.5 618.5)">Treg (IL-2 complex)</text>
<text x="132.61" y="561.5" font-size="7.6" text-anchor="middle" textLength="60.9" lengthAdjust="spacingAndGlyphs" transform="rotate(-90 132.61 561.5)" class="h">%CD25hi of CD8+</text>
<text x="268.8" y="507" font-size="11.8" font-weight="bold" textLength="9.04" lengthAdjust="spacingAndGlyphs" fill="#000" class="lt">M</text>
<line x1="299.7" y1="521.3" x2="299.7" y2="608.7" stroke="#222" stroke-width="1.4"/>
<line x1="296.9" y1="523.2" x2="299.7" y2="523.2" stroke="#222" stroke-width="1.4"/>
<text x="293.5" y="525.8" font-size="6.4" text-anchor="end">1.5</text>
<line x1="296.9" y1="551.6" x2="299.7" y2="551.6" stroke="#222" stroke-width="1.4"/>
<text x="293.5" y="554.2" font-size="6.4" text-anchor="end">1.0</text>
<line x1="296.9" y1="580" x2="299.7" y2="580" stroke="#222" stroke-width="1.4"/>
<text x="293.5" y="582.6" font-size="6.4" text-anchor="end">0.5</text>
<line x1="296.9" y1="608.7" x2="299.7" y2="608.7" stroke="#222" stroke-width="1.4"/>
<text x="293.5" y="611.3" font-size="6.4" text-anchor="end">0</text>
<line x1="299.7" y1="608.7" x2="381.3" y2="608.7" stroke="#222" stroke-width="1.4"/>
<rect x="304.5" y="606.5" width="6.5" height="2.2" fill="#cdcdcd"/>
<line x1="307.75" y1="605.8" x2="307.75" y2="606.5" stroke="#111" stroke-width="1.3"/>
<line x1="306" y1="605.8" x2="309.5" y2="605.8" stroke="#111" stroke-width="1.3"/>
<line x1="307.75" y1="608.7" x2="307.75" y2="611.5" stroke="#222" stroke-width="1.4"/>
<rect x="318.7" y="587.6" width="10.8" height="21.1" fill="#050505"/>
<line x1="324.1" y1="586.6" x2="324.1" y2="587.6" stroke="#111" stroke-width="1.3"/>
<line x1="321.18" y1="586.6" x2="327.02" y2="586.6" stroke="#111" stroke-width="1.3"/>
<line x1="324.1" y1="608.7" x2="324.1" y2="611.5" stroke="#222" stroke-width="1.4"/>
<rect x="334.7" y="546.3" width="11.1" height="62.4" fill="#383838"/>
<line x1="340.25" y1="537.1" x2="340.25" y2="546.3" stroke="#111" stroke-width="1.3"/>
<line x1="337.25" y1="537.1" x2="343.25" y2="537.1" stroke="#111" stroke-width="1.3"/>
<line x1="340.25" y1="608.7" x2="340.25" y2="611.5" stroke="#222" stroke-width="1.4"/>
<rect x="351" y="602.9" width="10.6" height="5.8" fill="#676767"/>
<line x1="356.3" y1="602.1" x2="356.3" y2="602.9" stroke="#111" stroke-width="1.3"/>
<line x1="353.44" y1="602.1" x2="359.16" y2="602.1" stroke="#111" stroke-width="1.3"/>
<line x1="356.3" y1="608.7" x2="356.3" y2="611.5" stroke="#222" stroke-width="1.4"/>
<rect x="366.8" y="574.5" width="11.1" height="34.2" fill="#9d9d9d"/>
<line x1="372.35" y1="573.2" x2="372.35" y2="574.5" stroke="#111" stroke-width="1.3"/>
<line x1="369.35" y1="573.2" x2="375.35" y2="573.2" stroke="#111" stroke-width="1.3"/>
<line x1="372.35" y1="608.7" x2="372.35" y2="611.5" stroke="#222" stroke-width="1.4"/>
<line x1="323.9" y1="520.5" x2="372.1" y2="520.5" stroke="#111" stroke-width="1.4"/>
<line x1="341" y1="527.9" x2="372.1" y2="527.9" stroke="#111" stroke-width="1.4"/>
<line x1="322.9" y1="535.3" x2="339.5" y2="535.3" stroke="#111" stroke-width="1.4"/>
<line x1="341" y1="535.3" x2="358.2" y2="535.3" stroke="#111" stroke-width="1.4"/>
<line x1="356.3" y1="570.5" x2="371.6" y2="570.5" stroke="#111" stroke-width="1.4"/>
<text x="345.75" y="520.5" font-size="7.4" text-anchor="middle">*</text>
<text x="349.45" y="520.5" font-size="7.4" text-anchor="middle">*</text>
<text x="356.3" y="527.9" font-size="7.4" text-anchor="middle">*</text>
<text x="329.95" y="535.7" font-size="7.4" text-anchor="middle">*</text>
<text x="333.65" y="535.7" font-size="7.4" text-anchor="middle">*</text>
<text x="344.7" y="535.7" font-size="7.4" text-anchor="middle">*</text>
<text x="348.4" y="535.7" font-size="7.4" text-anchor="middle">*</text>
<text x="352.1" y="535.7" font-size="7.4" text-anchor="middle">*</text>
<text x="361.3" y="570.5" font-size="7.4" text-anchor="middle">*</text>
<text x="365" y="570.5" font-size="7.4" text-anchor="middle">*</text>
<text x="368.7" y="570.5" font-size="7.4" text-anchor="middle">*</text>
<text x="310.35" y="618.5" font-size="7.56" text-anchor="end" textLength="24.15" lengthAdjust="spacingAndGlyphs" transform="rotate(-45 310.35 618.5)">BM Only</text>
<text x="326.7" y="618.5" font-size="7.56" text-anchor="end" textLength="21.71" lengthAdjust="spacingAndGlyphs" transform="rotate(-45 326.7 618.5)">aGVHD</text>
<text x="342.85" y="618.5" font-size="7.56" text-anchor="end" textLength="63.72" lengthAdjust="spacingAndGlyphs" transform="rotate(-45 342.85 618.5)">aGVHD (IL-2 complex)</text>
<text x="358.9" y="618.5" font-size="7.56" text-anchor="end" textLength="12.72" lengthAdjust="spacingAndGlyphs" transform="rotate(-45 358.9 618.5)">Treg</text>
<text x="374.95" y="618.5" font-size="7.56" text-anchor="end" textLength="54.73" lengthAdjust="spacingAndGlyphs" transform="rotate(-45 374.95 618.5)">Treg (IL-2 complex)</text>
<text x="279.84" y="564" font-size="8" text-anchor="middle" textLength="82.5" lengthAdjust="spacingAndGlyphs" transform="rotate(-90 279.84 564)" class="h">#25hiCD4+Foxp3- (10<tspan font-size="4.5" dy="-2.5">6</tspan><tspan dy="2.5">)</tspan></text>
<line x1="424.5" y1="512.2" x2="424.5" y2="608.7" stroke="#222" stroke-width="1.4"/>
<line x1="421.7" y1="514.7" x2="424.5" y2="514.7" stroke="#222" stroke-width="1.4"/>
<text x="418.3" y="517.3" font-size="6.4" text-anchor="end">1.00</text>
<line x1="421.7" y1="537.9" x2="424.5" y2="537.9" stroke="#222" stroke-width="1.4"/>
<text x="418.3" y="540.5" font-size="6.4" text-anchor="end">0.75</text>
<line x1="421.7" y1="561.6" x2="424.5" y2="561.6" stroke="#222" stroke-width="1.4"/>
<text x="418.3" y="564.2" font-size="6.4" text-anchor="end">0.50</text>
<line x1="421.7" y1="585.3" x2="424.5" y2="585.3" stroke="#222" stroke-width="1.4"/>
<text x="418.3" y="587.9" font-size="6.4" text-anchor="end">0.25</text>
<line x1="421.7" y1="608.7" x2="424.5" y2="608.7" stroke="#222" stroke-width="1.4"/>
<text x="418.3" y="611.3" font-size="6.4" text-anchor="end">0.00</text>
<line x1="424.5" y1="608.7" x2="512.6" y2="608.7" stroke="#222" stroke-width="1.4"/>
<rect x="427.5" y="606.8" width="11" height="1.9" fill="#cdcdcd"/>
<line x1="433" y1="606" x2="433" y2="606.8" stroke="#111" stroke-width="1.3"/>
<line x1="430.03" y1="606" x2="435.97" y2="606" stroke="#111" stroke-width="1.3"/>
<line x1="433" y1="608.7" x2="433" y2="611.5" stroke="#222" stroke-width="1.4"/>
<rect x="445" y="585.8" width="11.6" height="22.9" fill="#050505"/>
<line x1="450.8" y1="584.5" x2="450.8" y2="585.8" stroke="#111" stroke-width="1.3"/>
<line x1="447.67" y1="584.5" x2="453.93" y2="584.5" stroke="#111" stroke-width="1.3"/>
<line x1="450.8" y1="608.7" x2="450.8" y2="611.5" stroke="#222" stroke-width="1.4"/>
<rect x="462.6" y="542.9" width="11.9" height="65.8" fill="#383838"/>
<line x1="468.55" y1="539.2" x2="468.55" y2="542.9" stroke="#111" stroke-width="1.3"/>
<line x1="465.34" y1="539.2" x2="471.76" y2="539.2" stroke="#111" stroke-width="1.3"/>
<line x1="468.55" y1="608.7" x2="468.55" y2="611.5" stroke="#222" stroke-width="1.4"/>
<rect x="480.5" y="602.1" width="11.9" height="6.6" fill="#676767"/>
<line x1="486.45" y1="599.7" x2="486.45" y2="602.1" stroke="#111" stroke-width="1.3"/>
<line x1="483.24" y1="599.7" x2="489.66" y2="599.7" stroke="#111" stroke-width="1.3"/>
<line x1="486.45" y1="608.7" x2="486.45" y2="611.5" stroke="#222" stroke-width="1.4"/>
<rect x="498.2" y="580" width="11.8" height="28.7" fill="#9d9d9d"/>
<line x1="504.1" y1="578.4" x2="504.1" y2="580" stroke="#111" stroke-width="1.3"/>
<line x1="500.91" y1="578.4" x2="507.29" y2="578.4" stroke="#111" stroke-width="1.3"/>
<line x1="504.1" y1="608.7" x2="504.1" y2="611.5" stroke="#222" stroke-width="1.4"/>
<line x1="450.8" y1="520.8" x2="504.2" y2="520.8" stroke="#111" stroke-width="1.4"/>
<line x1="468.7" y1="527.9" x2="504.2" y2="527.9" stroke="#111" stroke-width="1.4"/>
<line x1="449.5" y1="535.8" x2="467" y2="535.8" stroke="#111" stroke-width="1.4"/>
<line x1="469" y1="535.8" x2="488.4" y2="535.8" stroke="#111" stroke-width="1.4"/>
<line x1="486.3" y1="574.7" x2="504.7" y2="574.7" stroke="#111" stroke-width="1.4"/>
<text x="478.4" y="518.4" font-size="6" text-anchor="middle">ns</text>
<text x="484.45" y="529.2" font-size="7.4" text-anchor="middle">*</text>
<text x="488.15" y="529.2" font-size="7.4" text-anchor="middle">*</text>
<text x="452.9" y="537.1" font-size="7.4" text-anchor="middle">*</text>
<text x="456.6" y="537.1" font-size="7.4" text-anchor="middle">*</text>
<text x="460.3" y="537.1" font-size="7.4" text-anchor="middle">*</text>
<text x="473.65" y="537.1" font-size="7.4" text-anchor="middle">*</text>
<text x="477.35" y="537.1" font-size="7.4" text-anchor="middle">*</text>
<text x="481.05" y="537.1" font-size="7.4" text-anchor="middle">*</text>
<text x="484.75" y="537.1" font-size="7.4" text-anchor="middle">*</text>
<text x="493.65" y="576" font-size="7.4" text-anchor="middle">*</text>
<text x="497.35" y="576" font-size="7.4" text-anchor="middle">*</text>
<text x="435.6" y="618.5" font-size="7.56" text-anchor="end" textLength="24.15" lengthAdjust="spacingAndGlyphs" transform="rotate(-45 435.6 618.5)">BM Only</text>
<text x="453.4" y="618.5" font-size="7.56" text-anchor="end" textLength="21.71" lengthAdjust="spacingAndGlyphs" transform="rotate(-45 453.4 618.5)">aGVHD</text>
<text x="471.15" y="618.5" font-size="7.56" text-anchor="end" textLength="63.72" lengthAdjust="spacingAndGlyphs" transform="rotate(-45 471.15 618.5)">aGVHD (IL-2 complex)</text>
<text x="489.05" y="618.5" font-size="7.56" text-anchor="end" textLength="12.72" lengthAdjust="spacingAndGlyphs" transform="rotate(-45 489.05 618.5)">Treg</text>
<text x="506.7" y="618.5" font-size="7.56" text-anchor="end" textLength="54.73" lengthAdjust="spacingAndGlyphs" transform="rotate(-45 506.7 618.5)">Treg (IL-2 complex)</text>
<text x="399.18" y="559.5" font-size="7.5" text-anchor="middle" textLength="56.5" lengthAdjust="spacingAndGlyphs" transform="rotate(-90 399.18 559.5)" class="h">#25hiCD8+ (10<tspan font-size="4.5" dy="-2.5">6</tspan><tspan dy="2.5">)</tspan></text>
<rect x="0.5" y="0.5" width="519" height="670.5" fill="none" stroke="#111" stroke-width="1.2"/>
<line x1="0" y1="671.2" x2="520" y2="671.2" stroke="#111" stroke-width="1.6"/>
</svg>
</body></html>
